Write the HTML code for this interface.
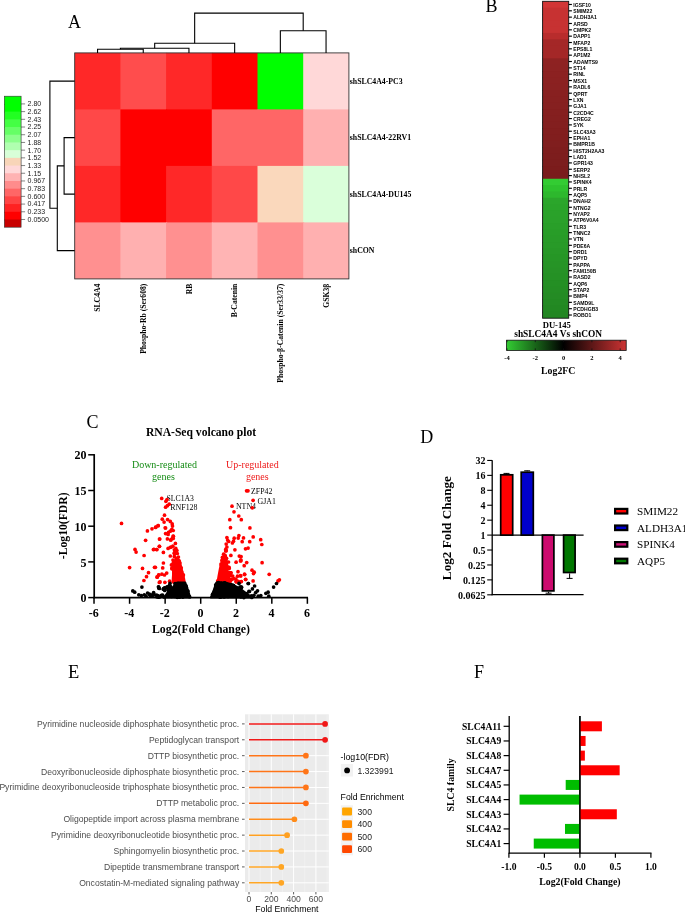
<!DOCTYPE html>
<html><head><meta charset="utf-8"><title>Figure</title>
<style>html,body{margin:0;padding:0;background:#fff;} svg{display:block;will-change:transform;}</style>
</head><body>
<svg width="685" height="913" viewBox="0 0 685 913">
<rect width="685" height="913" fill="#fff"/>
<text x="68.00" y="28.30" font-family="'Liberation Serif', serif" font-size="18" font-weight="normal" text-anchor="start" fill="#000" >A</text>
<rect x="4.30" y="96.20" width="16.80" height="8.71" fill="#00ff00" stroke="none" stroke-width="0" />
<rect x="4.30" y="103.91" width="16.80" height="8.71" fill="#00ff00" stroke="none" stroke-width="0" />
<rect x="4.30" y="111.61" width="16.80" height="8.71" fill="#22ff22" stroke="none" stroke-width="0" />
<rect x="4.30" y="119.32" width="16.80" height="8.71" fill="#44ff44" stroke="none" stroke-width="0" />
<rect x="4.30" y="127.02" width="16.80" height="8.71" fill="#66ff66" stroke="none" stroke-width="0" />
<rect x="4.30" y="134.73" width="16.80" height="8.71" fill="#8cff8c" stroke="none" stroke-width="0" />
<rect x="4.30" y="142.44" width="16.80" height="8.71" fill="#b0ffb0" stroke="none" stroke-width="0" />
<rect x="4.30" y="150.14" width="16.80" height="8.71" fill="#d8ffd8" stroke="none" stroke-width="0" />
<rect x="4.30" y="157.85" width="16.80" height="8.71" fill="#f8d5b8" stroke="none" stroke-width="0" />
<rect x="4.30" y="165.55" width="16.80" height="8.71" fill="#ffd8d8" stroke="none" stroke-width="0" />
<rect x="4.30" y="173.26" width="16.80" height="8.71" fill="#ffb3b3" stroke="none" stroke-width="0" />
<rect x="4.30" y="180.96" width="16.80" height="8.71" fill="#ff8c8c" stroke="none" stroke-width="0" />
<rect x="4.30" y="188.67" width="16.80" height="8.71" fill="#ff6666" stroke="none" stroke-width="0" />
<rect x="4.30" y="196.38" width="16.80" height="8.71" fill="#ff4444" stroke="none" stroke-width="0" />
<rect x="4.30" y="204.08" width="16.80" height="8.71" fill="#ff2222" stroke="none" stroke-width="0" />
<rect x="4.30" y="211.79" width="16.80" height="8.71" fill="#ff0000" stroke="none" stroke-width="0" />
<rect x="4.30" y="219.49" width="16.80" height="7.71" fill="#c80000" stroke="none" stroke-width="0" />
<rect x="4.30" y="96.20" width="16.80" height="131.00" fill="none" stroke="#333" stroke-width="0.6" />
<line x1="21.10" y1="103.91" x2="25.10" y2="103.91" stroke="#333" stroke-width="0.6" />
<text x="27.60" y="106.31" font-family="'Liberation Sans', sans-serif" font-size="7" font-weight="normal" text-anchor="start" fill="#222" >2.80</text>
<line x1="21.10" y1="111.61" x2="25.10" y2="111.61" stroke="#333" stroke-width="0.6" />
<text x="27.60" y="114.01" font-family="'Liberation Sans', sans-serif" font-size="7" font-weight="normal" text-anchor="start" fill="#222" >2.62</text>
<line x1="21.10" y1="119.32" x2="25.10" y2="119.32" stroke="#333" stroke-width="0.6" />
<text x="27.60" y="121.72" font-family="'Liberation Sans', sans-serif" font-size="7" font-weight="normal" text-anchor="start" fill="#222" >2.43</text>
<line x1="21.10" y1="127.02" x2="25.10" y2="127.02" stroke="#333" stroke-width="0.6" />
<text x="27.60" y="129.42" font-family="'Liberation Sans', sans-serif" font-size="7" font-weight="normal" text-anchor="start" fill="#222" >2.25</text>
<line x1="21.10" y1="134.73" x2="25.10" y2="134.73" stroke="#333" stroke-width="0.6" />
<text x="27.60" y="137.13" font-family="'Liberation Sans', sans-serif" font-size="7" font-weight="normal" text-anchor="start" fill="#222" >2.07</text>
<line x1="21.10" y1="142.44" x2="25.10" y2="142.44" stroke="#333" stroke-width="0.6" />
<text x="27.60" y="144.84" font-family="'Liberation Sans', sans-serif" font-size="7" font-weight="normal" text-anchor="start" fill="#222" >1.88</text>
<line x1="21.10" y1="150.14" x2="25.10" y2="150.14" stroke="#333" stroke-width="0.6" />
<text x="27.60" y="152.54" font-family="'Liberation Sans', sans-serif" font-size="7" font-weight="normal" text-anchor="start" fill="#222" >1.70</text>
<line x1="21.10" y1="157.85" x2="25.10" y2="157.85" stroke="#333" stroke-width="0.6" />
<text x="27.60" y="160.25" font-family="'Liberation Sans', sans-serif" font-size="7" font-weight="normal" text-anchor="start" fill="#222" >1.52</text>
<line x1="21.10" y1="165.55" x2="25.10" y2="165.55" stroke="#333" stroke-width="0.6" />
<text x="27.60" y="167.95" font-family="'Liberation Sans', sans-serif" font-size="7" font-weight="normal" text-anchor="start" fill="#222" >1.33</text>
<line x1="21.10" y1="173.26" x2="25.10" y2="173.26" stroke="#333" stroke-width="0.6" />
<text x="27.60" y="175.66" font-family="'Liberation Sans', sans-serif" font-size="7" font-weight="normal" text-anchor="start" fill="#222" >1.15</text>
<line x1="21.10" y1="180.96" x2="25.10" y2="180.96" stroke="#333" stroke-width="0.6" />
<text x="27.60" y="183.36" font-family="'Liberation Sans', sans-serif" font-size="7" font-weight="normal" text-anchor="start" fill="#222" >0.967</text>
<line x1="21.10" y1="188.67" x2="25.10" y2="188.67" stroke="#333" stroke-width="0.6" />
<text x="27.60" y="191.07" font-family="'Liberation Sans', sans-serif" font-size="7" font-weight="normal" text-anchor="start" fill="#222" >0.783</text>
<line x1="21.10" y1="196.38" x2="25.10" y2="196.38" stroke="#333" stroke-width="0.6" />
<text x="27.60" y="198.78" font-family="'Liberation Sans', sans-serif" font-size="7" font-weight="normal" text-anchor="start" fill="#222" >0.600</text>
<line x1="21.10" y1="204.08" x2="25.10" y2="204.08" stroke="#333" stroke-width="0.6" />
<text x="27.60" y="206.48" font-family="'Liberation Sans', sans-serif" font-size="7" font-weight="normal" text-anchor="start" fill="#222" >0.417</text>
<line x1="21.10" y1="211.79" x2="25.10" y2="211.79" stroke="#333" stroke-width="0.6" />
<text x="27.60" y="214.19" font-family="'Liberation Sans', sans-serif" font-size="7" font-weight="normal" text-anchor="start" fill="#222" >0.233</text>
<line x1="21.10" y1="219.49" x2="25.10" y2="219.49" stroke="#333" stroke-width="0.6" />
<text x="27.60" y="221.89" font-family="'Liberation Sans', sans-serif" font-size="7" font-weight="normal" text-anchor="start" fill="#222" >0.0500</text>
<rect x="74.70" y="52.90" width="46.70" height="57.50" fill="#ff2828" stroke="none" stroke-width="0" />
<rect x="120.40" y="52.90" width="46.70" height="57.50" fill="#ff4d4d" stroke="none" stroke-width="0" />
<rect x="166.10" y="52.90" width="46.70" height="57.50" fill="#ff2828" stroke="none" stroke-width="0" />
<rect x="211.80" y="52.90" width="46.70" height="57.50" fill="#ff0000" stroke="none" stroke-width="0" />
<rect x="257.50" y="52.90" width="46.70" height="57.50" fill="#00ff00" stroke="none" stroke-width="0" />
<rect x="303.20" y="52.90" width="45.70" height="57.50" fill="#ffd8d8" stroke="none" stroke-width="0" />
<rect x="74.70" y="109.40" width="46.70" height="57.50" fill="#ff4848" stroke="none" stroke-width="0" />
<rect x="120.40" y="109.40" width="46.70" height="57.50" fill="#ff0000" stroke="none" stroke-width="0" />
<rect x="166.10" y="109.40" width="46.70" height="57.50" fill="#ff0000" stroke="none" stroke-width="0" />
<rect x="211.80" y="109.40" width="46.70" height="57.50" fill="#ff6666" stroke="none" stroke-width="0" />
<rect x="257.50" y="109.40" width="46.70" height="57.50" fill="#ff6666" stroke="none" stroke-width="0" />
<rect x="303.20" y="109.40" width="45.70" height="57.50" fill="#ffb0b0" stroke="none" stroke-width="0" />
<rect x="74.70" y="165.90" width="46.70" height="57.50" fill="#ff2828" stroke="none" stroke-width="0" />
<rect x="120.40" y="165.90" width="46.70" height="57.50" fill="#ff0000" stroke="none" stroke-width="0" />
<rect x="166.10" y="165.90" width="46.70" height="57.50" fill="#ff2828" stroke="none" stroke-width="0" />
<rect x="211.80" y="165.90" width="46.70" height="57.50" fill="#ff4848" stroke="none" stroke-width="0" />
<rect x="257.50" y="165.90" width="46.70" height="57.50" fill="#fad8bc" stroke="none" stroke-width="0" />
<rect x="303.20" y="165.90" width="45.70" height="57.50" fill="#daffda" stroke="none" stroke-width="0" />
<rect x="74.70" y="222.40" width="46.70" height="56.50" fill="#ff9090" stroke="none" stroke-width="0" />
<rect x="120.40" y="222.40" width="46.70" height="56.50" fill="#ffb0b0" stroke="none" stroke-width="0" />
<rect x="166.10" y="222.40" width="46.70" height="56.50" fill="#ff9090" stroke="none" stroke-width="0" />
<rect x="211.80" y="222.40" width="46.70" height="56.50" fill="#ffb4b4" stroke="none" stroke-width="0" />
<rect x="257.50" y="222.40" width="46.70" height="56.50" fill="#ff9090" stroke="none" stroke-width="0" />
<rect x="303.20" y="222.40" width="45.70" height="56.50" fill="#ffb0b0" stroke="none" stroke-width="0" />
<rect x="74.70" y="52.90" width="274.20" height="226.00" fill="none" stroke="#333" stroke-width="0.9" />
<text x="349.80" y="83.85" font-family="'Liberation Serif', serif" font-size="7.8" font-weight="bold" text-anchor="start" fill="#000" >shSLC4A4-PC3</text>
<text x="349.80" y="140.35" font-family="'Liberation Serif', serif" font-size="7.8" font-weight="bold" text-anchor="start" fill="#000" >shSLC4A4-22RV1</text>
<text x="349.80" y="196.85" font-family="'Liberation Serif', serif" font-size="7.8" font-weight="bold" text-anchor="start" fill="#000" >shSLC4A4-DU145</text>
<text x="349.80" y="253.35" font-family="'Liberation Serif', serif" font-size="7.8" font-weight="bold" text-anchor="start" fill="#000" >shCON</text>
<text x="0.00" y="0.00" font-family="'Liberation Serif', serif" font-size="7.7" font-weight="bold" text-anchor="end" fill="#000" transform="translate(100.15,283.6) rotate(-90)">SLC4A4</text>
<text x="0.00" y="0.00" font-family="'Liberation Serif', serif" font-size="7.7" font-weight="bold" text-anchor="end" fill="#000" transform="translate(145.85,283.6) rotate(-90)">Phospho-Rb (Ser608)</text>
<text x="0.00" y="0.00" font-family="'Liberation Serif', serif" font-size="7.7" font-weight="bold" text-anchor="end" fill="#000" transform="translate(191.55,283.6) rotate(-90)">RB</text>
<text x="0.00" y="0.00" font-family="'Liberation Serif', serif" font-size="7.7" font-weight="bold" text-anchor="end" fill="#000" transform="translate(237.25,283.6) rotate(-90)">B-Catenin</text>
<text x="0.00" y="0.00" font-family="'Liberation Serif', serif" font-size="7.7" font-weight="bold" text-anchor="end" fill="#000" transform="translate(282.95,283.6) rotate(-90)">Phospho-&#946;-Catenin (Ser33/37)</text>
<text x="0.00" y="0.00" font-family="'Liberation Serif', serif" font-size="7.7" font-weight="bold" text-anchor="end" fill="#000" transform="translate(328.65,283.6) rotate(-90)">GSK3&#946;</text>
<path d="M97.55,52.90 V49.30 H143.25 V52.90" stroke="#000" stroke-width="1.1" fill="none" />
<path d="M120.40,49.30 V48.30 H188.95 V52.90" stroke="#000" stroke-width="1.1" fill="none" />
<path d="M154.68,48.30 V43.30 H234.65 V52.90" stroke="#000" stroke-width="1.1" fill="none" />
<path d="M280.35,52.90 V30.70 H326.05 V52.90" stroke="#000" stroke-width="1.1" fill="none" />
<path d="M194.66,43.30 V13.10 H303.20 V30.70" stroke="#000" stroke-width="1.1" fill="none" />
<path d="M74.70,137.65 H64.10 V194.15 H74.70" stroke="#000" stroke-width="1.1" fill="none" />
<path d="M64.10,165.90 H57.30 V250.65 H74.70" stroke="#000" stroke-width="1.1" fill="none" />
<path d="M74.70,81.15 H49.90 V208.27 H57.30" stroke="#000" stroke-width="1.1" fill="none" />
<text x="485.60" y="12.30" font-family="'Liberation Serif', serif" font-size="18" font-weight="normal" text-anchor="start" fill="#000" >B</text>
<rect x="542.60" y="1.30" width="26.10" height="7.34" fill="#d23636" stroke="none" stroke-width="0" />
<rect x="542.60" y="7.64" width="26.10" height="7.34" fill="#c73232" stroke="none" stroke-width="0" />
<rect x="542.60" y="13.98" width="26.10" height="7.34" fill="#c73232" stroke="none" stroke-width="0" />
<rect x="542.60" y="20.31" width="26.10" height="7.34" fill="#c73232" stroke="none" stroke-width="0" />
<rect x="542.60" y="26.65" width="26.10" height="7.34" fill="#c73232" stroke="none" stroke-width="0" />
<rect x="542.60" y="32.99" width="26.10" height="7.34" fill="#b82c2c" stroke="none" stroke-width="0" />
<rect x="542.60" y="39.33" width="26.10" height="7.34" fill="#a42727" stroke="none" stroke-width="0" />
<rect x="542.60" y="45.67" width="26.10" height="7.34" fill="#a42727" stroke="none" stroke-width="0" />
<rect x="542.60" y="52.00" width="26.10" height="7.34" fill="#a42727" stroke="none" stroke-width="0" />
<rect x="542.60" y="58.34" width="26.10" height="7.34" fill="#8e2222" stroke="none" stroke-width="0" />
<rect x="542.60" y="64.68" width="26.10" height="7.34" fill="#8d2222" stroke="none" stroke-width="0" />
<rect x="542.60" y="71.02" width="26.10" height="7.34" fill="#8c2121" stroke="none" stroke-width="0" />
<rect x="542.60" y="77.36" width="26.10" height="7.34" fill="#8b2121" stroke="none" stroke-width="0" />
<rect x="542.60" y="83.69" width="26.10" height="7.34" fill="#8a2121" stroke="none" stroke-width="0" />
<rect x="542.60" y="90.03" width="26.10" height="7.34" fill="#882020" stroke="none" stroke-width="0" />
<rect x="542.60" y="96.37" width="26.10" height="7.34" fill="#872020" stroke="none" stroke-width="0" />
<rect x="542.60" y="102.71" width="26.10" height="7.34" fill="#862020" stroke="none" stroke-width="0" />
<rect x="542.60" y="109.05" width="26.10" height="7.34" fill="#851f1f" stroke="none" stroke-width="0" />
<rect x="542.60" y="115.38" width="26.10" height="7.34" fill="#841f1f" stroke="none" stroke-width="0" />
<rect x="542.60" y="121.72" width="26.10" height="7.34" fill="#831f1f" stroke="none" stroke-width="0" />
<rect x="542.60" y="128.06" width="26.10" height="7.34" fill="#821e1e" stroke="none" stroke-width="0" />
<rect x="542.60" y="134.40" width="26.10" height="7.34" fill="#811e1e" stroke="none" stroke-width="0" />
<rect x="542.60" y="140.74" width="26.10" height="7.34" fill="#801e1e" stroke="none" stroke-width="0" />
<rect x="542.60" y="147.07" width="26.10" height="7.34" fill="#7e1d1d" stroke="none" stroke-width="0" />
<rect x="542.60" y="153.41" width="26.10" height="7.34" fill="#7d1d1d" stroke="none" stroke-width="0" />
<rect x="542.60" y="159.75" width="26.10" height="7.34" fill="#7c1d1d" stroke="none" stroke-width="0" />
<rect x="542.60" y="166.09" width="26.10" height="7.34" fill="#7b1c1c" stroke="none" stroke-width="0" />
<rect x="542.60" y="172.43" width="26.10" height="7.34" fill="#7a1c1c" stroke="none" stroke-width="0" />
<rect x="542.60" y="178.76" width="26.10" height="7.34" fill="#33cc33" stroke="none" stroke-width="0" />
<rect x="542.60" y="185.10" width="26.10" height="7.34" fill="#2ec22e" stroke="none" stroke-width="0" />
<rect x="542.60" y="191.44" width="26.10" height="7.34" fill="#2db82d" stroke="none" stroke-width="0" />
<rect x="542.60" y="197.78" width="26.10" height="7.34" fill="#2ba62b" stroke="none" stroke-width="0" />
<rect x="542.60" y="204.12" width="26.10" height="7.34" fill="#2aa42a" stroke="none" stroke-width="0" />
<rect x="542.60" y="210.45" width="26.10" height="7.34" fill="#2aa22a" stroke="none" stroke-width="0" />
<rect x="542.60" y="216.79" width="26.10" height="7.34" fill="#2aa12a" stroke="none" stroke-width="0" />
<rect x="542.60" y="223.13" width="26.10" height="7.34" fill="#299f29" stroke="none" stroke-width="0" />
<rect x="542.60" y="229.47" width="26.10" height="7.34" fill="#289d28" stroke="none" stroke-width="0" />
<rect x="542.60" y="235.81" width="26.10" height="7.34" fill="#289b28" stroke="none" stroke-width="0" />
<rect x="542.60" y="242.14" width="26.10" height="7.34" fill="#289a28" stroke="none" stroke-width="0" />
<rect x="542.60" y="248.48" width="26.10" height="7.34" fill="#279827" stroke="none" stroke-width="0" />
<rect x="542.60" y="254.82" width="26.10" height="7.34" fill="#269626" stroke="none" stroke-width="0" />
<rect x="542.60" y="261.16" width="26.10" height="7.34" fill="#269426" stroke="none" stroke-width="0" />
<rect x="542.60" y="267.50" width="26.10" height="7.34" fill="#269226" stroke="none" stroke-width="0" />
<rect x="542.60" y="273.83" width="26.10" height="7.34" fill="#259125" stroke="none" stroke-width="0" />
<rect x="542.60" y="280.17" width="26.10" height="7.34" fill="#248f24" stroke="none" stroke-width="0" />
<rect x="542.60" y="286.51" width="26.10" height="7.34" fill="#248d24" stroke="none" stroke-width="0" />
<rect x="542.60" y="292.85" width="26.10" height="7.34" fill="#248b24" stroke="none" stroke-width="0" />
<rect x="542.60" y="299.19" width="26.10" height="7.34" fill="#238a23" stroke="none" stroke-width="0" />
<rect x="542.60" y="305.52" width="26.10" height="7.34" fill="#228822" stroke="none" stroke-width="0" />
<rect x="542.60" y="311.86" width="26.10" height="6.34" fill="#228622" stroke="none" stroke-width="0" />
<rect x="542.60" y="1.30" width="26.10" height="316.90" fill="none" stroke="#111" stroke-width="0.9" />
<line x1="568.70" y1="4.47" x2="571.90" y2="4.47" stroke="#000" stroke-width="1.15" />
<text x="573.30" y="6.77" font-family="'Liberation Sans', sans-serif" font-size="5.1" font-weight="bold" text-anchor="start" fill="#000" >IGSF10</text>
<line x1="568.70" y1="10.81" x2="571.90" y2="10.81" stroke="#000" stroke-width="1.15" />
<text x="573.30" y="13.11" font-family="'Liberation Sans', sans-serif" font-size="5.1" font-weight="bold" text-anchor="start" fill="#000" >SMIM22</text>
<line x1="568.70" y1="17.14" x2="571.90" y2="17.14" stroke="#000" stroke-width="1.15" />
<text x="573.30" y="19.45" font-family="'Liberation Sans', sans-serif" font-size="5.1" font-weight="bold" text-anchor="start" fill="#000" >ALDH3A1</text>
<line x1="568.70" y1="23.48" x2="571.90" y2="23.48" stroke="#000" stroke-width="1.15" />
<text x="573.30" y="25.78" font-family="'Liberation Sans', sans-serif" font-size="5.1" font-weight="bold" text-anchor="start" fill="#000" >ARSD</text>
<line x1="568.70" y1="29.82" x2="571.90" y2="29.82" stroke="#000" stroke-width="1.15" />
<text x="573.30" y="32.12" font-family="'Liberation Sans', sans-serif" font-size="5.1" font-weight="bold" text-anchor="start" fill="#000" >CMPK2</text>
<line x1="568.70" y1="36.16" x2="571.90" y2="36.16" stroke="#000" stroke-width="1.15" />
<text x="573.30" y="38.46" font-family="'Liberation Sans', sans-serif" font-size="5.1" font-weight="bold" text-anchor="start" fill="#000" >DAPP1</text>
<line x1="568.70" y1="42.50" x2="571.90" y2="42.50" stroke="#000" stroke-width="1.15" />
<text x="573.30" y="44.80" font-family="'Liberation Sans', sans-serif" font-size="5.1" font-weight="bold" text-anchor="start" fill="#000" >MFAP2</text>
<line x1="568.70" y1="48.83" x2="571.90" y2="48.83" stroke="#000" stroke-width="1.15" />
<text x="573.30" y="51.13" font-family="'Liberation Sans', sans-serif" font-size="5.1" font-weight="bold" text-anchor="start" fill="#000" >EPS8L1</text>
<line x1="568.70" y1="55.17" x2="571.90" y2="55.17" stroke="#000" stroke-width="1.15" />
<text x="573.30" y="57.47" font-family="'Liberation Sans', sans-serif" font-size="5.1" font-weight="bold" text-anchor="start" fill="#000" >AP1M2</text>
<line x1="568.70" y1="61.51" x2="571.90" y2="61.51" stroke="#000" stroke-width="1.15" />
<text x="573.30" y="63.81" font-family="'Liberation Sans', sans-serif" font-size="5.1" font-weight="bold" text-anchor="start" fill="#000" >ADAMTS9</text>
<line x1="568.70" y1="67.85" x2="571.90" y2="67.85" stroke="#000" stroke-width="1.15" />
<text x="573.30" y="70.15" font-family="'Liberation Sans', sans-serif" font-size="5.1" font-weight="bold" text-anchor="start" fill="#000" >ST14</text>
<line x1="568.70" y1="74.19" x2="571.90" y2="74.19" stroke="#000" stroke-width="1.15" />
<text x="573.30" y="76.49" font-family="'Liberation Sans', sans-serif" font-size="5.1" font-weight="bold" text-anchor="start" fill="#000" >RINL</text>
<line x1="568.70" y1="80.52" x2="571.90" y2="80.52" stroke="#000" stroke-width="1.15" />
<text x="573.30" y="82.82" font-family="'Liberation Sans', sans-serif" font-size="5.1" font-weight="bold" text-anchor="start" fill="#000" >MSX1</text>
<line x1="568.70" y1="86.86" x2="571.90" y2="86.86" stroke="#000" stroke-width="1.15" />
<text x="573.30" y="89.16" font-family="'Liberation Sans', sans-serif" font-size="5.1" font-weight="bold" text-anchor="start" fill="#000" >RADL6</text>
<line x1="568.70" y1="93.20" x2="571.90" y2="93.20" stroke="#000" stroke-width="1.15" />
<text x="573.30" y="95.50" font-family="'Liberation Sans', sans-serif" font-size="5.1" font-weight="bold" text-anchor="start" fill="#000" >QPRT</text>
<line x1="568.70" y1="99.54" x2="571.90" y2="99.54" stroke="#000" stroke-width="1.15" />
<text x="573.30" y="101.84" font-family="'Liberation Sans', sans-serif" font-size="5.1" font-weight="bold" text-anchor="start" fill="#000" >LXN</text>
<line x1="568.70" y1="105.88" x2="571.90" y2="105.88" stroke="#000" stroke-width="1.15" />
<text x="573.30" y="108.18" font-family="'Liberation Sans', sans-serif" font-size="5.1" font-weight="bold" text-anchor="start" fill="#000" >GJA1</text>
<line x1="568.70" y1="112.21" x2="571.90" y2="112.21" stroke="#000" stroke-width="1.15" />
<text x="573.30" y="114.51" font-family="'Liberation Sans', sans-serif" font-size="5.1" font-weight="bold" text-anchor="start" fill="#000" >C2CD4C</text>
<line x1="568.70" y1="118.55" x2="571.90" y2="118.55" stroke="#000" stroke-width="1.15" />
<text x="573.30" y="120.85" font-family="'Liberation Sans', sans-serif" font-size="5.1" font-weight="bold" text-anchor="start" fill="#000" >CREG2</text>
<line x1="568.70" y1="124.89" x2="571.90" y2="124.89" stroke="#000" stroke-width="1.15" />
<text x="573.30" y="127.19" font-family="'Liberation Sans', sans-serif" font-size="5.1" font-weight="bold" text-anchor="start" fill="#000" >SYK</text>
<line x1="568.70" y1="131.23" x2="571.90" y2="131.23" stroke="#000" stroke-width="1.15" />
<text x="573.30" y="133.53" font-family="'Liberation Sans', sans-serif" font-size="5.1" font-weight="bold" text-anchor="start" fill="#000" >SLC43A3</text>
<line x1="568.70" y1="137.57" x2="571.90" y2="137.57" stroke="#000" stroke-width="1.15" />
<text x="573.30" y="139.87" font-family="'Liberation Sans', sans-serif" font-size="5.1" font-weight="bold" text-anchor="start" fill="#000" >EPHA1</text>
<line x1="568.70" y1="143.91" x2="571.90" y2="143.91" stroke="#000" stroke-width="1.15" />
<text x="573.30" y="146.21" font-family="'Liberation Sans', sans-serif" font-size="5.1" font-weight="bold" text-anchor="start" fill="#000" >BMPR1B</text>
<line x1="568.70" y1="150.24" x2="571.90" y2="150.24" stroke="#000" stroke-width="1.15" />
<text x="573.30" y="152.54" font-family="'Liberation Sans', sans-serif" font-size="5.1" font-weight="bold" text-anchor="start" fill="#000" >HIST2H2AA3</text>
<line x1="568.70" y1="156.58" x2="571.90" y2="156.58" stroke="#000" stroke-width="1.15" />
<text x="573.30" y="158.88" font-family="'Liberation Sans', sans-serif" font-size="5.1" font-weight="bold" text-anchor="start" fill="#000" >LAD1</text>
<line x1="568.70" y1="162.92" x2="571.90" y2="162.92" stroke="#000" stroke-width="1.15" />
<text x="573.30" y="165.22" font-family="'Liberation Sans', sans-serif" font-size="5.1" font-weight="bold" text-anchor="start" fill="#000" >GPR143</text>
<line x1="568.70" y1="169.26" x2="571.90" y2="169.26" stroke="#000" stroke-width="1.15" />
<text x="573.30" y="171.56" font-family="'Liberation Sans', sans-serif" font-size="5.1" font-weight="bold" text-anchor="start" fill="#000" >SERP2</text>
<line x1="568.70" y1="175.59" x2="571.90" y2="175.59" stroke="#000" stroke-width="1.15" />
<text x="573.30" y="177.90" font-family="'Liberation Sans', sans-serif" font-size="5.1" font-weight="bold" text-anchor="start" fill="#000" >NHSL2</text>
<line x1="568.70" y1="181.93" x2="571.90" y2="181.93" stroke="#000" stroke-width="1.15" />
<text x="573.30" y="184.23" font-family="'Liberation Sans', sans-serif" font-size="5.1" font-weight="bold" text-anchor="start" fill="#000" >SPINK4</text>
<line x1="568.70" y1="188.27" x2="571.90" y2="188.27" stroke="#000" stroke-width="1.15" />
<text x="573.30" y="190.57" font-family="'Liberation Sans', sans-serif" font-size="5.1" font-weight="bold" text-anchor="start" fill="#000" >PRLR</text>
<line x1="568.70" y1="194.61" x2="571.90" y2="194.61" stroke="#000" stroke-width="1.15" />
<text x="573.30" y="196.91" font-family="'Liberation Sans', sans-serif" font-size="5.1" font-weight="bold" text-anchor="start" fill="#000" >AQP5</text>
<line x1="568.70" y1="200.95" x2="571.90" y2="200.95" stroke="#000" stroke-width="1.15" />
<text x="573.30" y="203.25" font-family="'Liberation Sans', sans-serif" font-size="5.1" font-weight="bold" text-anchor="start" fill="#000" >DNAH2</text>
<line x1="568.70" y1="207.28" x2="571.90" y2="207.28" stroke="#000" stroke-width="1.15" />
<text x="573.30" y="209.59" font-family="'Liberation Sans', sans-serif" font-size="5.1" font-weight="bold" text-anchor="start" fill="#000" >NTNG2</text>
<line x1="568.70" y1="213.62" x2="571.90" y2="213.62" stroke="#000" stroke-width="1.15" />
<text x="573.30" y="215.92" font-family="'Liberation Sans', sans-serif" font-size="5.1" font-weight="bold" text-anchor="start" fill="#000" >NYAP2</text>
<line x1="568.70" y1="219.96" x2="571.90" y2="219.96" stroke="#000" stroke-width="1.15" />
<text x="573.30" y="222.26" font-family="'Liberation Sans', sans-serif" font-size="5.1" font-weight="bold" text-anchor="start" fill="#000" >ATP6V0A4</text>
<line x1="568.70" y1="226.30" x2="571.90" y2="226.30" stroke="#000" stroke-width="1.15" />
<text x="573.30" y="228.60" font-family="'Liberation Sans', sans-serif" font-size="5.1" font-weight="bold" text-anchor="start" fill="#000" >TLR3</text>
<line x1="568.70" y1="232.64" x2="571.90" y2="232.64" stroke="#000" stroke-width="1.15" />
<text x="573.30" y="234.94" font-family="'Liberation Sans', sans-serif" font-size="5.1" font-weight="bold" text-anchor="start" fill="#000" >TNNC2</text>
<line x1="568.70" y1="238.97" x2="571.90" y2="238.97" stroke="#000" stroke-width="1.15" />
<text x="573.30" y="241.28" font-family="'Liberation Sans', sans-serif" font-size="5.1" font-weight="bold" text-anchor="start" fill="#000" >VTN</text>
<line x1="568.70" y1="245.31" x2="571.90" y2="245.31" stroke="#000" stroke-width="1.15" />
<text x="573.30" y="247.61" font-family="'Liberation Sans', sans-serif" font-size="5.1" font-weight="bold" text-anchor="start" fill="#000" >PDE6A</text>
<line x1="568.70" y1="251.65" x2="571.90" y2="251.65" stroke="#000" stroke-width="1.15" />
<text x="573.30" y="253.95" font-family="'Liberation Sans', sans-serif" font-size="5.1" font-weight="bold" text-anchor="start" fill="#000" >DRD1</text>
<line x1="568.70" y1="257.99" x2="571.90" y2="257.99" stroke="#000" stroke-width="1.15" />
<text x="573.30" y="260.29" font-family="'Liberation Sans', sans-serif" font-size="5.1" font-weight="bold" text-anchor="start" fill="#000" >DPYD</text>
<line x1="568.70" y1="264.33" x2="571.90" y2="264.33" stroke="#000" stroke-width="1.15" />
<text x="573.30" y="266.63" font-family="'Liberation Sans', sans-serif" font-size="5.1" font-weight="bold" text-anchor="start" fill="#000" >PAPPA</text>
<line x1="568.70" y1="270.66" x2="571.90" y2="270.66" stroke="#000" stroke-width="1.15" />
<text x="573.30" y="272.96" font-family="'Liberation Sans', sans-serif" font-size="5.1" font-weight="bold" text-anchor="start" fill="#000" >FAM150B</text>
<line x1="568.70" y1="277.00" x2="571.90" y2="277.00" stroke="#000" stroke-width="1.15" />
<text x="573.30" y="279.30" font-family="'Liberation Sans', sans-serif" font-size="5.1" font-weight="bold" text-anchor="start" fill="#000" >RASD2</text>
<line x1="568.70" y1="283.34" x2="571.90" y2="283.34" stroke="#000" stroke-width="1.15" />
<text x="573.30" y="285.64" font-family="'Liberation Sans', sans-serif" font-size="5.1" font-weight="bold" text-anchor="start" fill="#000" >AQP6</text>
<line x1="568.70" y1="289.68" x2="571.90" y2="289.68" stroke="#000" stroke-width="1.15" />
<text x="573.30" y="291.98" font-family="'Liberation Sans', sans-serif" font-size="5.1" font-weight="bold" text-anchor="start" fill="#000" >STAP2</text>
<line x1="568.70" y1="296.02" x2="571.90" y2="296.02" stroke="#000" stroke-width="1.15" />
<text x="573.30" y="298.32" font-family="'Liberation Sans', sans-serif" font-size="5.1" font-weight="bold" text-anchor="start" fill="#000" >BMP4</text>
<line x1="568.70" y1="302.35" x2="571.90" y2="302.35" stroke="#000" stroke-width="1.15" />
<text x="573.30" y="304.65" font-family="'Liberation Sans', sans-serif" font-size="5.1" font-weight="bold" text-anchor="start" fill="#000" >SAMD9L</text>
<line x1="568.70" y1="308.69" x2="571.90" y2="308.69" stroke="#000" stroke-width="1.15" />
<text x="573.30" y="310.99" font-family="'Liberation Sans', sans-serif" font-size="5.1" font-weight="bold" text-anchor="start" fill="#000" >PCDHGB3</text>
<line x1="568.70" y1="315.03" x2="571.90" y2="315.03" stroke="#000" stroke-width="1.15" />
<text x="573.30" y="317.33" font-family="'Liberation Sans', sans-serif" font-size="5.1" font-weight="bold" text-anchor="start" fill="#000" >ROBO1</text>
<text x="556.80" y="327.80" font-family="'Liberation Serif', serif" font-size="8.6" font-weight="bold" text-anchor="middle" fill="#000" >DU-145</text>
<text x="558.20" y="336.70" font-family="'Liberation Serif', serif" font-size="9.4" font-weight="bold" text-anchor="middle" fill="#000" >shSLC4A4 Vs shCON</text>
<defs><linearGradient id="lfc" x1="0" x2="1" y1="0" y2="0"><stop offset="0" stop-color="#33cc33"/><stop offset="0.475" stop-color="#000"/><stop offset="1" stop-color="#cc3333"/></linearGradient></defs>
<rect x="506.60" y="340.20" width="119.60" height="10.20" fill="url(#lfc)" stroke="#111" stroke-width="0.8" />
<line x1="507.00" y1="348.40" x2="507.00" y2="350.40" stroke="#111" stroke-width="0.8" />
<line x1="507.00" y1="340.20" x2="507.00" y2="342.20" stroke="#111" stroke-width="0.8" />
<text x="507.00" y="360.00" font-family="'Liberation Serif', serif" font-size="6.5" font-weight="bold" text-anchor="middle" fill="#000" >-4</text>
<line x1="535.30" y1="348.40" x2="535.30" y2="350.40" stroke="#111" stroke-width="0.8" />
<line x1="535.30" y1="340.20" x2="535.30" y2="342.20" stroke="#111" stroke-width="0.8" />
<text x="535.30" y="360.00" font-family="'Liberation Serif', serif" font-size="6.5" font-weight="bold" text-anchor="middle" fill="#000" >-2</text>
<line x1="563.60" y1="348.40" x2="563.60" y2="350.40" stroke="#111" stroke-width="0.8" />
<line x1="563.60" y1="340.20" x2="563.60" y2="342.20" stroke="#111" stroke-width="0.8" />
<text x="563.60" y="360.00" font-family="'Liberation Serif', serif" font-size="6.5" font-weight="bold" text-anchor="middle" fill="#000" >0</text>
<line x1="591.90" y1="348.40" x2="591.90" y2="350.40" stroke="#111" stroke-width="0.8" />
<line x1="591.90" y1="340.20" x2="591.90" y2="342.20" stroke="#111" stroke-width="0.8" />
<text x="591.90" y="360.00" font-family="'Liberation Serif', serif" font-size="6.5" font-weight="bold" text-anchor="middle" fill="#000" >2</text>
<line x1="620.20" y1="348.40" x2="620.20" y2="350.40" stroke="#111" stroke-width="0.8" />
<line x1="620.20" y1="340.20" x2="620.20" y2="342.20" stroke="#111" stroke-width="0.8" />
<text x="620.20" y="360.00" font-family="'Liberation Serif', serif" font-size="6.5" font-weight="bold" text-anchor="middle" fill="#000" >4</text>
<text x="558.20" y="374.40" font-family="'Liberation Serif', serif" font-size="9.8" font-weight="bold" text-anchor="middle" fill="#000" >Log2FC</text>
<text x="86.60" y="427.60" font-family="'Liberation Serif', serif" font-size="18" font-weight="normal" text-anchor="start" fill="#000" >C</text>
<text x="201.00" y="435.90" font-family="'Liberation Serif', serif" font-size="11.6" font-weight="bold" text-anchor="middle" fill="#000" >RNA-Seq volcano plot</text>
<line x1="94.20" y1="454.10" x2="94.20" y2="598.40" stroke="#000" stroke-width="1.7" />
<line x1="93.40" y1="597.60" x2="308.00" y2="597.60" stroke="#000" stroke-width="1.7" />
<line x1="88.20" y1="597.60" x2="94.20" y2="597.60" stroke="#000" stroke-width="1.5" />
<text x="86.60" y="602.20" font-family="'Liberation Serif', serif" font-size="12" font-weight="bold" text-anchor="end" fill="#000" >0</text>
<line x1="88.20" y1="561.90" x2="94.20" y2="561.90" stroke="#000" stroke-width="1.5" />
<text x="86.60" y="566.50" font-family="'Liberation Serif', serif" font-size="12" font-weight="bold" text-anchor="end" fill="#000" >5</text>
<line x1="88.20" y1="526.20" x2="94.20" y2="526.20" stroke="#000" stroke-width="1.5" />
<text x="86.60" y="530.80" font-family="'Liberation Serif', serif" font-size="12" font-weight="bold" text-anchor="end" fill="#000" >10</text>
<line x1="88.20" y1="490.50" x2="94.20" y2="490.50" stroke="#000" stroke-width="1.5" />
<text x="86.60" y="495.10" font-family="'Liberation Serif', serif" font-size="12" font-weight="bold" text-anchor="end" fill="#000" >15</text>
<line x1="88.20" y1="454.80" x2="94.20" y2="454.80" stroke="#000" stroke-width="1.5" />
<text x="86.60" y="459.40" font-family="'Liberation Serif', serif" font-size="12" font-weight="bold" text-anchor="end" fill="#000" >20</text>
<line x1="94.02" y1="597.60" x2="94.02" y2="603.80" stroke="#000" stroke-width="1.5" />
<text x="93.72" y="616.60" font-family="'Liberation Serif', serif" font-size="12" font-weight="bold" text-anchor="middle" fill="#000" >-6</text>
<line x1="129.58" y1="597.60" x2="129.58" y2="603.80" stroke="#000" stroke-width="1.5" />
<text x="129.28" y="616.60" font-family="'Liberation Serif', serif" font-size="12" font-weight="bold" text-anchor="middle" fill="#000" >-4</text>
<line x1="165.14" y1="597.60" x2="165.14" y2="603.80" stroke="#000" stroke-width="1.5" />
<text x="164.84" y="616.60" font-family="'Liberation Serif', serif" font-size="12" font-weight="bold" text-anchor="middle" fill="#000" >-2</text>
<line x1="200.70" y1="597.60" x2="200.70" y2="603.80" stroke="#000" stroke-width="1.5" />
<text x="200.40" y="616.60" font-family="'Liberation Serif', serif" font-size="12" font-weight="bold" text-anchor="middle" fill="#000" >0</text>
<line x1="236.26" y1="597.60" x2="236.26" y2="603.80" stroke="#000" stroke-width="1.5" />
<text x="235.96" y="616.60" font-family="'Liberation Serif', serif" font-size="12" font-weight="bold" text-anchor="middle" fill="#000" >2</text>
<line x1="271.82" y1="597.60" x2="271.82" y2="603.80" stroke="#000" stroke-width="1.5" />
<text x="271.52" y="616.60" font-family="'Liberation Serif', serif" font-size="12" font-weight="bold" text-anchor="middle" fill="#000" >4</text>
<line x1="307.38" y1="597.60" x2="307.38" y2="603.80" stroke="#000" stroke-width="1.5" />
<text x="307.08" y="616.60" font-family="'Liberation Serif', serif" font-size="12" font-weight="bold" text-anchor="middle" fill="#000" >6</text>
<text x="201.00" y="632.60" font-family="'Liberation Serif', serif" font-size="11.8" font-weight="bold" text-anchor="middle" fill="#000" >Log2(Fold Change)</text>
<text x="0.00" y="0.00" font-family="'Liberation Serif', serif" font-size="11.7" font-weight="bold" text-anchor="middle" fill="#000" transform="translate(67.2,525.8) rotate(-90)">-Log10(FDR)</text>
<text x="164.40" y="467.80" font-family="'Liberation Serif', serif" font-size="10" font-weight="normal" text-anchor="middle" fill="#158c15" >Down-regulated</text>
<text x="163.40" y="480.30" font-family="'Liberation Serif', serif" font-size="10" font-weight="normal" text-anchor="middle" fill="#158c15" >genes</text>
<text x="252.40" y="467.80" font-family="'Liberation Serif', serif" font-size="10" font-weight="normal" text-anchor="middle" fill="#ee1c1c" >Up-regulated</text>
<text x="257.30" y="480.30" font-family="'Liberation Serif', serif" font-size="10" font-weight="normal" text-anchor="middle" fill="#ee1c1c" >genes</text>
<text x="166.60" y="500.90" font-family="'Liberation Serif', serif" font-size="7.7" font-weight="normal" text-anchor="start" fill="#000" >SLC1A3</text>
<text x="170.30" y="509.80" font-family="'Liberation Serif', serif" font-size="7.9" font-weight="normal" text-anchor="start" fill="#000" >RNF128</text>
<text x="251.10" y="494.30" font-family="'Liberation Serif', serif" font-size="7.8" font-weight="normal" text-anchor="start" fill="#000" >ZFP42</text>
<text x="257.50" y="503.60" font-family="'Liberation Serif', serif" font-size="7.9" font-weight="normal" text-anchor="start" fill="#000" >GJA1</text>
<text x="235.90" y="509.30" font-family="'Liberation Serif', serif" font-size="7.9" font-weight="normal" text-anchor="start" fill="#000" >NTN4</text>
<path d="M177.5,558.0 L180.0,562.0 L182.0,570.0 L184.0,578.0 L184.8,582.5 L172.5,582.5 L173.0,575.0 L173.0,567.0 L174.0,561.0 Z" fill="#ff0000" stroke="#ff0000" stroke-width="2.0" stroke-linejoin="round"/>
<path d="M224.0,555.0 L226.0,556.0 L227.0,562.0 L227.5,570.0 L229.0,576.0 L230.0,582.5 L217.5,582.5 L218.5,576.0 L220.0,568.0 L222.0,561.0 Z" fill="#ff0000" stroke="#ff0000" stroke-width="2.0" stroke-linejoin="round"/>
<circle cx="174.2" cy="553.2" r="1.85" fill="#ff0000"/>
<circle cx="177.6" cy="560.6" r="1.85" fill="#ff0000"/>
<circle cx="175.8" cy="576.5" r="1.85" fill="#ff0000"/>
<circle cx="179.0" cy="580.7" r="1.85" fill="#ff0000"/>
<circle cx="178.2" cy="561.7" r="1.85" fill="#ff0000"/>
<circle cx="173.9" cy="576.2" r="1.85" fill="#ff0000"/>
<circle cx="171.9" cy="568.1" r="1.85" fill="#ff0000"/>
<circle cx="179.2" cy="560.8" r="1.85" fill="#ff0000"/>
<circle cx="179.9" cy="562.8" r="1.85" fill="#ff0000"/>
<circle cx="174.0" cy="568.2" r="1.85" fill="#ff0000"/>
<circle cx="176.3" cy="558.3" r="1.85" fill="#ff0000"/>
<circle cx="181.7" cy="572.1" r="1.85" fill="#ff0000"/>
<circle cx="172.9" cy="567.8" r="1.85" fill="#ff0000"/>
<circle cx="177.4" cy="578.2" r="1.85" fill="#ff0000"/>
<circle cx="175.7" cy="574.1" r="1.85" fill="#ff0000"/>
<circle cx="171.4" cy="564.9" r="1.85" fill="#ff0000"/>
<circle cx="181.2" cy="567.8" r="1.85" fill="#ff0000"/>
<circle cx="180.1" cy="568.5" r="1.85" fill="#ff0000"/>
<circle cx="178.3" cy="563.7" r="1.85" fill="#ff0000"/>
<circle cx="182.4" cy="580.6" r="1.85" fill="#ff0000"/>
<circle cx="176.6" cy="570.9" r="1.85" fill="#ff0000"/>
<circle cx="179.4" cy="582.3" r="1.85" fill="#ff0000"/>
<circle cx="175.2" cy="571.1" r="1.85" fill="#ff0000"/>
<circle cx="175.3" cy="578.1" r="1.85" fill="#ff0000"/>
<circle cx="177.8" cy="578.5" r="1.85" fill="#ff0000"/>
<circle cx="182.1" cy="577.8" r="1.85" fill="#ff0000"/>
<circle cx="173.5" cy="562.3" r="1.85" fill="#ff0000"/>
<circle cx="174.7" cy="578.5" r="1.85" fill="#ff0000"/>
<circle cx="172.7" cy="564.7" r="1.85" fill="#ff0000"/>
<circle cx="178.4" cy="557.1" r="1.85" fill="#ff0000"/>
<circle cx="174.9" cy="567.5" r="1.85" fill="#ff0000"/>
<circle cx="177.2" cy="569.3" r="1.85" fill="#ff0000"/>
<circle cx="183.4" cy="574.9" r="1.85" fill="#ff0000"/>
<circle cx="183.0" cy="575.5" r="1.85" fill="#ff0000"/>
<circle cx="175.3" cy="561.8" r="1.85" fill="#ff0000"/>
<circle cx="174.4" cy="549.8" r="1.85" fill="#ff0000"/>
<circle cx="173.0" cy="560.0" r="1.85" fill="#ff0000"/>
<circle cx="174.8" cy="552.2" r="1.85" fill="#ff0000"/>
<circle cx="182.6" cy="582.3" r="1.85" fill="#ff0000"/>
<circle cx="176.5" cy="564.7" r="1.85" fill="#ff0000"/>
<circle cx="225.4" cy="558.6" r="1.85" fill="#ff0000"/>
<circle cx="217.7" cy="580.9" r="1.85" fill="#ff0000"/>
<circle cx="229.8" cy="581.8" r="1.85" fill="#ff0000"/>
<circle cx="223.4" cy="561.9" r="1.85" fill="#ff0000"/>
<circle cx="221.2" cy="575.1" r="1.85" fill="#ff0000"/>
<circle cx="229.9" cy="575.3" r="1.85" fill="#ff0000"/>
<circle cx="225.0" cy="557.2" r="1.85" fill="#ff0000"/>
<circle cx="236.5" cy="582.0" r="1.85" fill="#ff0000"/>
<circle cx="237.5" cy="576.2" r="1.85" fill="#ff0000"/>
<circle cx="222.6" cy="566.8" r="1.85" fill="#ff0000"/>
<circle cx="225.7" cy="550.9" r="1.85" fill="#ff0000"/>
<circle cx="223.4" cy="572.5" r="1.85" fill="#ff0000"/>
<circle cx="239.5" cy="582.1" r="1.85" fill="#ff0000"/>
<circle cx="222.4" cy="557.4" r="1.85" fill="#ff0000"/>
<circle cx="232.1" cy="579.3" r="1.85" fill="#ff0000"/>
<circle cx="232.7" cy="576.0" r="1.85" fill="#ff0000"/>
<circle cx="221.4" cy="575.6" r="1.85" fill="#ff0000"/>
<circle cx="225.1" cy="576.0" r="1.85" fill="#ff0000"/>
<circle cx="226.8" cy="580.8" r="1.85" fill="#ff0000"/>
<circle cx="220.7" cy="576.9" r="1.85" fill="#ff0000"/>
<circle cx="225.5" cy="567.8" r="1.85" fill="#ff0000"/>
<circle cx="229.7" cy="580.3" r="1.85" fill="#ff0000"/>
<circle cx="227.5" cy="578.3" r="1.85" fill="#ff0000"/>
<circle cx="223.2" cy="559.5" r="1.85" fill="#ff0000"/>
<circle cx="222.9" cy="569.1" r="1.85" fill="#ff0000"/>
<circle cx="223.4" cy="563.6" r="1.85" fill="#ff0000"/>
<circle cx="220.3" cy="579.6" r="1.85" fill="#ff0000"/>
<circle cx="225.6" cy="564.9" r="1.85" fill="#ff0000"/>
<circle cx="231.1" cy="579.4" r="1.85" fill="#ff0000"/>
<circle cx="227.2" cy="579.8" r="1.85" fill="#ff0000"/>
<circle cx="229.1" cy="567.3" r="1.85" fill="#ff0000"/>
<circle cx="221.3" cy="565.4" r="1.85" fill="#ff0000"/>
<circle cx="225.0" cy="566.8" r="1.85" fill="#ff0000"/>
<circle cx="230.4" cy="575.5" r="1.85" fill="#ff0000"/>
<circle cx="223.1" cy="559.0" r="1.85" fill="#ff0000"/>
<circle cx="230.6" cy="574.7" r="1.85" fill="#ff0000"/>
<circle cx="229.4" cy="572.5" r="1.85" fill="#ff0000"/>
<circle cx="228.0" cy="567.3" r="1.85" fill="#ff0000"/>
<circle cx="228.6" cy="580.6" r="1.85" fill="#ff0000"/>
<circle cx="233.8" cy="578.5" r="1.85" fill="#ff0000"/>
<circle cx="230.5" cy="580.7" r="1.85" fill="#ff0000"/>
<circle cx="235.9" cy="579.2" r="1.85" fill="#ff0000"/>
<circle cx="220.9" cy="573.3" r="1.85" fill="#ff0000"/>
<circle cx="238.2" cy="581.4" r="1.85" fill="#ff0000"/>
<circle cx="222.4" cy="581.0" r="1.85" fill="#ff0000"/>
<circle cx="226.7" cy="565.8" r="1.85" fill="#ff0000"/>
<circle cx="221.0" cy="564.0" r="1.85" fill="#ff0000"/>
<circle cx="221.9" cy="560.4" r="1.85" fill="#ff0000"/>
<circle cx="218.7" cy="582.0" r="1.85" fill="#ff0000"/>
<circle cx="236.0" cy="581.6" r="1.85" fill="#ff0000"/>
<circle cx="223.6" cy="554.2" r="1.85" fill="#ff0000"/>
<circle cx="227.2" cy="579.6" r="1.85" fill="#ff0000"/>
<circle cx="220.8" cy="579.9" r="1.85" fill="#ff0000"/>
<circle cx="230.8" cy="572.8" r="1.85" fill="#ff0000"/>
<circle cx="218.9" cy="580.5" r="1.85" fill="#ff0000"/>
<circle cx="121.5" cy="523.4" r="1.85" fill="#ff0000"/>
<circle cx="147.4" cy="530.9" r="1.85" fill="#ff0000"/>
<circle cx="152" cy="528.8" r="1.85" fill="#ff0000"/>
<circle cx="155.6" cy="527.4" r="1.85" fill="#ff0000"/>
<circle cx="158.2" cy="525.7" r="1.85" fill="#ff0000"/>
<circle cx="145.6" cy="540.3" r="1.85" fill="#ff0000"/>
<circle cx="159.5" cy="539.1" r="1.85" fill="#ff0000"/>
<circle cx="135" cy="549.4" r="1.85" fill="#ff0000"/>
<circle cx="136.1" cy="552.1" r="1.85" fill="#ff0000"/>
<circle cx="153.4" cy="549.6" r="1.85" fill="#ff0000"/>
<circle cx="156.9" cy="549.6" r="1.85" fill="#ff0000"/>
<circle cx="159.3" cy="546.3" r="1.85" fill="#ff0000"/>
<circle cx="144.1" cy="555.5" r="1.85" fill="#ff0000"/>
<circle cx="129.6" cy="567.6" r="1.85" fill="#ff0000"/>
<circle cx="142.5" cy="568.4" r="1.85" fill="#ff0000"/>
<circle cx="154.5" cy="567.3" r="1.85" fill="#ff0000"/>
<circle cx="148.5" cy="572.7" r="1.85" fill="#ff0000"/>
<circle cx="146.5" cy="576.7" r="1.85" fill="#ff0000"/>
<circle cx="143.9" cy="580.5" r="1.85" fill="#ff0000"/>
<circle cx="157.1" cy="576.9" r="1.85" fill="#ff0000"/>
<circle cx="158.8" cy="574.9" r="1.85" fill="#ff0000"/>
<circle cx="159.3" cy="582.4" r="1.85" fill="#ff0000"/>
<circle cx="161.7" cy="498.4" r="1.85" fill="#ff0000"/>
<circle cx="165.9" cy="501.3" r="1.85" fill="#ff0000"/>
<circle cx="167" cy="499.5" r="1.85" fill="#ff0000"/>
<circle cx="165.6" cy="507.2" r="1.85" fill="#ff0000"/>
<circle cx="167.4" cy="505.7" r="1.85" fill="#ff0000"/>
<circle cx="169.2" cy="504.2" r="1.85" fill="#ff0000"/>
<circle cx="164.5" cy="515.2" r="1.85" fill="#ff0000"/>
<circle cx="162.3" cy="519.2" r="1.85" fill="#ff0000"/>
<circle cx="164.1" cy="522.1" r="1.85" fill="#ff0000"/>
<circle cx="167.6" cy="519.6" r="1.85" fill="#ff0000"/>
<circle cx="170.3" cy="521.4" r="1.85" fill="#ff0000"/>
<circle cx="172.2" cy="523.9" r="1.85" fill="#ff0000"/>
<circle cx="172.5" cy="526.1" r="1.85" fill="#ff0000"/>
<circle cx="158.1" cy="525.6" r="1.85" fill="#ff0000"/>
<circle cx="155.7" cy="527.2" r="1.85" fill="#ff0000"/>
<circle cx="165.6" cy="528" r="1.85" fill="#ff0000"/>
<circle cx="171.8" cy="529.4" r="1.85" fill="#ff0000"/>
<circle cx="173.2" cy="530.5" r="1.85" fill="#ff0000"/>
<circle cx="170.3" cy="531.2" r="1.85" fill="#ff0000"/>
<circle cx="168.5" cy="532.3" r="1.85" fill="#ff0000"/>
<circle cx="165.6" cy="533.6" r="1.85" fill="#ff0000"/>
<circle cx="168.1" cy="534.5" r="1.85" fill="#ff0000"/>
<circle cx="173.2" cy="536" r="1.85" fill="#ff0000"/>
<circle cx="173.2" cy="538.5" r="1.85" fill="#ff0000"/>
<circle cx="170.7" cy="540" r="1.85" fill="#ff0000"/>
<circle cx="167.4" cy="538.9" r="1.85" fill="#ff0000"/>
<circle cx="159.7" cy="539" r="1.85" fill="#ff0000"/>
<circle cx="175.4" cy="543.4" r="1.85" fill="#ff0000"/>
<circle cx="159.5" cy="546.3" r="1.85" fill="#ff0000"/>
<circle cx="156.6" cy="549.5" r="1.85" fill="#ff0000"/>
<circle cx="163.4" cy="552.4" r="1.85" fill="#ff0000"/>
<circle cx="168.1" cy="548.4" r="1.85" fill="#ff0000"/>
<circle cx="170.3" cy="547.3" r="1.85" fill="#ff0000"/>
<circle cx="172.9" cy="546.2" r="1.85" fill="#ff0000"/>
<circle cx="175.8" cy="548.4" r="1.85" fill="#ff0000"/>
<circle cx="176.9" cy="550.5" r="1.85" fill="#ff0000"/>
<circle cx="177.3" cy="553.5" r="1.85" fill="#ff0000"/>
<circle cx="174.7" cy="553.8" r="1.85" fill="#ff0000"/>
<circle cx="174.3" cy="556.4" r="1.85" fill="#ff0000"/>
<circle cx="170.3" cy="556" r="1.85" fill="#ff0000"/>
<circle cx="163.4" cy="563" r="1.85" fill="#ff0000"/>
<circle cx="155.4" cy="567.3" r="1.85" fill="#ff0000"/>
<circle cx="162.7" cy="567.9" r="1.85" fill="#ff0000"/>
<circle cx="171.9" cy="568.8" r="1.85" fill="#ff0000"/>
<circle cx="166.7" cy="573.1" r="1.85" fill="#ff0000"/>
<circle cx="164.5" cy="575" r="1.85" fill="#ff0000"/>
<circle cx="161.9" cy="574.2" r="1.85" fill="#ff0000"/>
<circle cx="158.6" cy="575" r="1.85" fill="#ff0000"/>
<circle cx="157.2" cy="577.2" r="1.85" fill="#ff0000"/>
<circle cx="160.1" cy="581.9" r="1.85" fill="#ff0000"/>
<circle cx="164.9" cy="582.3" r="1.85" fill="#ff0000"/>
<circle cx="169.6" cy="581.2" r="1.85" fill="#ff0000"/>
<circle cx="165.2" cy="527.8" r="1.85" fill="#ff0000"/>
<circle cx="173.4" cy="536.3" r="1.85" fill="#ff0000"/>
<circle cx="172.3" cy="538.3" r="1.85" fill="#ff0000"/>
<circle cx="170.8" cy="539.9" r="1.85" fill="#ff0000"/>
<circle cx="154" cy="549.3" r="1.85" fill="#ff0000"/>
<circle cx="171.3" cy="547" r="1.85" fill="#ff0000"/>
<circle cx="246.6" cy="490.8" r="1.85" fill="#ff0000"/>
<circle cx="248.0" cy="490.8" r="1.85" fill="#ff0000"/>
<circle cx="253.1" cy="500.3" r="1.85" fill="#ff0000"/>
<circle cx="252.3" cy="507.8" r="1.85" fill="#ff0000"/>
<circle cx="232" cy="506.2" r="1.85" fill="#ff0000"/>
<circle cx="234" cy="511.8" r="1.85" fill="#ff0000"/>
<circle cx="238.8" cy="516" r="1.85" fill="#ff0000"/>
<circle cx="241.3" cy="519.7" r="1.85" fill="#ff0000"/>
<circle cx="229.8" cy="519.7" r="1.85" fill="#ff0000"/>
<circle cx="230.5" cy="527.7" r="1.85" fill="#ff0000"/>
<circle cx="249.9" cy="527.9" r="1.85" fill="#ff0000"/>
<circle cx="238.9" cy="535.5" r="1.85" fill="#ff0000"/>
<circle cx="238.2" cy="538.1" r="1.85" fill="#ff0000"/>
<circle cx="243.5" cy="537.9" r="1.85" fill="#ff0000"/>
<circle cx="253.2" cy="536.9" r="1.85" fill="#ff0000"/>
<circle cx="226.9" cy="537.5" r="1.85" fill="#ff0000"/>
<circle cx="227.6" cy="540.1" r="1.85" fill="#ff0000"/>
<circle cx="228.7" cy="541.5" r="1.85" fill="#ff0000"/>
<circle cx="226.2" cy="544.1" r="1.85" fill="#ff0000"/>
<circle cx="226.9" cy="547" r="1.85" fill="#ff0000"/>
<circle cx="225.8" cy="549.2" r="1.85" fill="#ff0000"/>
<circle cx="226.2" cy="550.7" r="1.85" fill="#ff0000"/>
<circle cx="234.2" cy="538.2" r="1.85" fill="#ff0000"/>
<circle cx="233.5" cy="541.2" r="1.85" fill="#ff0000"/>
<circle cx="232.4" cy="543" r="1.85" fill="#ff0000"/>
<circle cx="242.2" cy="541.7" r="1.85" fill="#ff0000"/>
<circle cx="249.7" cy="541.7" r="1.85" fill="#ff0000"/>
<circle cx="234.9" cy="549.8" r="1.85" fill="#ff0000"/>
<circle cx="245.5" cy="548.8" r="1.85" fill="#ff0000"/>
<circle cx="248.1" cy="548.1" r="1.85" fill="#ff0000"/>
<circle cx="230.9" cy="555.4" r="1.85" fill="#ff0000"/>
<circle cx="239.3" cy="556.1" r="1.85" fill="#ff0000"/>
<circle cx="241.1" cy="556.5" r="1.85" fill="#ff0000"/>
<circle cx="225.1" cy="555.4" r="1.85" fill="#ff0000"/>
<circle cx="224.3" cy="557.6" r="1.85" fill="#ff0000"/>
<circle cx="226.5" cy="558.3" r="1.85" fill="#ff0000"/>
<circle cx="240.8" cy="559.8" r="1.85" fill="#ff0000"/>
<circle cx="260.7" cy="539.7" r="1.85" fill="#ff0000"/>
<circle cx="261.8" cy="544.5" r="1.85" fill="#ff0000"/>
<circle cx="228.5" cy="562" r="1.85" fill="#ff0000"/>
<circle cx="236.1" cy="562.2" r="1.85" fill="#ff0000"/>
<circle cx="240.5" cy="560.9" r="1.85" fill="#ff0000"/>
<circle cx="246.7" cy="562.6" r="1.85" fill="#ff0000"/>
<circle cx="244.2" cy="565.7" r="1.85" fill="#ff0000"/>
<circle cx="229.2" cy="568.4" r="1.85" fill="#ff0000"/>
<circle cx="231" cy="572.8" r="1.85" fill="#ff0000"/>
<circle cx="238" cy="571.7" r="1.85" fill="#ff0000"/>
<circle cx="244.5" cy="574.2" r="1.85" fill="#ff0000"/>
<circle cx="240.5" cy="575.7" r="1.85" fill="#ff0000"/>
<circle cx="245.6" cy="579.3" r="1.85" fill="#ff0000"/>
<circle cx="241.2" cy="581.5" r="1.85" fill="#ff0000"/>
<circle cx="240.9" cy="560.7" r="1.85" fill="#ff0000"/>
<circle cx="262.1" cy="562.7" r="1.85" fill="#ff0000"/>
<circle cx="252" cy="570.2" r="1.85" fill="#ff0000"/>
<circle cx="254.2" cy="572.2" r="1.85" fill="#ff0000"/>
<circle cx="253.5" cy="573.6" r="1.85" fill="#ff0000"/>
<circle cx="244.7" cy="574.6" r="1.85" fill="#ff0000"/>
<circle cx="240.7" cy="576" r="1.85" fill="#ff0000"/>
<circle cx="269.2" cy="574.3" r="1.85" fill="#ff0000"/>
<circle cx="245.7" cy="579.5" r="1.85" fill="#ff0000"/>
<circle cx="253.1" cy="580.9" r="1.85" fill="#ff0000"/>
<circle cx="241.3" cy="581.6" r="1.85" fill="#ff0000"/>
<circle cx="278" cy="580.9" r="1.85" fill="#ff0000"/>
<circle cx="279.4" cy="579.8" r="1.85" fill="#ff0000"/>
<path d="M177.0,582.6 L185.3,582.6 L188.0,590.2 L190.3,597.6 L164.0,597.6 L168.0,592.0 L173.0,587.0 Z" fill="#000" stroke="#000" stroke-width="2.0" stroke-linejoin="round"/>
<path d="M216.4,582.6 L226.0,582.6 L232.0,584.5 L240.0,588.5 L246.0,593.0 L250.0,597.6 L210.8,597.6 L213.7,590.2 Z" fill="#000" stroke="#000" stroke-width="2.0" stroke-linejoin="round"/>
<circle cx="175.0" cy="594.7" r="1.85" fill="#000"/>
<circle cx="151.6" cy="595.5" r="1.85" fill="#000"/>
<circle cx="150.8" cy="595.6" r="1.85" fill="#000"/>
<circle cx="167.3" cy="588.0" r="1.85" fill="#000"/>
<circle cx="171.5" cy="596.5" r="1.85" fill="#000"/>
<circle cx="170.4" cy="586.5" r="1.85" fill="#000"/>
<circle cx="180.3" cy="587.2" r="1.85" fill="#000"/>
<circle cx="169.3" cy="585.6" r="1.85" fill="#000"/>
<circle cx="179.2" cy="591.0" r="1.85" fill="#000"/>
<circle cx="182.8" cy="589.3" r="1.85" fill="#000"/>
<circle cx="169.0" cy="595.2" r="1.85" fill="#000"/>
<circle cx="164.7" cy="590.4" r="1.85" fill="#000"/>
<circle cx="177.2" cy="597.3" r="1.85" fill="#000"/>
<circle cx="162.6" cy="595.2" r="1.85" fill="#000"/>
<circle cx="178.0" cy="592.3" r="1.85" fill="#000"/>
<circle cx="165.2" cy="588.1" r="1.85" fill="#000"/>
<circle cx="151.6" cy="595.3" r="1.85" fill="#000"/>
<circle cx="185.0" cy="592.8" r="1.85" fill="#000"/>
<circle cx="159.2" cy="597.0" r="1.85" fill="#000"/>
<circle cx="158.4" cy="597.1" r="1.85" fill="#000"/>
<circle cx="168.2" cy="590.3" r="1.85" fill="#000"/>
<circle cx="172.9" cy="590.7" r="1.85" fill="#000"/>
<circle cx="179.9" cy="592.6" r="1.85" fill="#000"/>
<circle cx="178.4" cy="595.8" r="1.85" fill="#000"/>
<circle cx="164.6" cy="587.8" r="1.85" fill="#000"/>
<circle cx="178.8" cy="592.4" r="1.85" fill="#000"/>
<circle cx="149.9" cy="595.2" r="1.85" fill="#000"/>
<circle cx="185.9" cy="592.2" r="1.85" fill="#000"/>
<circle cx="179.2" cy="594.9" r="1.85" fill="#000"/>
<circle cx="169.4" cy="595.2" r="1.85" fill="#000"/>
<circle cx="182.2" cy="595.1" r="1.85" fill="#000"/>
<circle cx="172.8" cy="596.0" r="1.85" fill="#000"/>
<circle cx="177.0" cy="593.1" r="1.85" fill="#000"/>
<circle cx="152.5" cy="595.2" r="1.85" fill="#000"/>
<circle cx="171.7" cy="592.2" r="1.85" fill="#000"/>
<circle cx="174.6" cy="592.9" r="1.85" fill="#000"/>
<circle cx="181.9" cy="593.9" r="1.85" fill="#000"/>
<circle cx="169.4" cy="590.8" r="1.85" fill="#000"/>
<circle cx="176.0" cy="584.0" r="1.85" fill="#000"/>
<circle cx="179.3" cy="586.7" r="1.85" fill="#000"/>
<circle cx="179.0" cy="586.0" r="1.85" fill="#000"/>
<circle cx="179.4" cy="597.2" r="1.85" fill="#000"/>
<circle cx="169.0" cy="588.6" r="1.85" fill="#000"/>
<circle cx="168.4" cy="593.0" r="1.85" fill="#000"/>
<circle cx="180.6" cy="592.0" r="1.85" fill="#000"/>
<circle cx="175.3" cy="584.1" r="1.85" fill="#000"/>
<circle cx="179.6" cy="587.4" r="1.85" fill="#000"/>
<circle cx="176.6" cy="593.1" r="1.85" fill="#000"/>
<circle cx="176.7" cy="587.2" r="1.85" fill="#000"/>
<circle cx="170.0" cy="589.8" r="1.85" fill="#000"/>
<circle cx="186.0" cy="585.9" r="1.85" fill="#000"/>
<circle cx="189.6" cy="596.7" r="1.85" fill="#000"/>
<circle cx="182.8" cy="597.1" r="1.85" fill="#000"/>
<circle cx="167.1" cy="586.9" r="1.85" fill="#000"/>
<circle cx="156.9" cy="596.8" r="1.85" fill="#000"/>
<circle cx="182.9" cy="590.4" r="1.85" fill="#000"/>
<circle cx="185.7" cy="593.3" r="1.85" fill="#000"/>
<circle cx="157.8" cy="596.1" r="1.85" fill="#000"/>
<circle cx="167.2" cy="587.4" r="1.85" fill="#000"/>
<circle cx="161.4" cy="595.3" r="1.85" fill="#000"/>
<circle cx="183.7" cy="584.8" r="1.85" fill="#000"/>
<circle cx="187.4" cy="593.4" r="1.85" fill="#000"/>
<circle cx="186.3" cy="587.2" r="1.85" fill="#000"/>
<circle cx="163.8" cy="588.7" r="1.85" fill="#000"/>
<circle cx="163.3" cy="589.2" r="1.85" fill="#000"/>
<circle cx="152.3" cy="595.2" r="1.85" fill="#000"/>
<circle cx="160.1" cy="596.7" r="1.85" fill="#000"/>
<circle cx="169.7" cy="585.8" r="1.85" fill="#000"/>
<circle cx="163.9" cy="597.0" r="1.85" fill="#000"/>
<circle cx="185.6" cy="594.9" r="1.85" fill="#000"/>
<circle cx="174.8" cy="596.3" r="1.85" fill="#000"/>
<circle cx="188.0" cy="591.0" r="1.85" fill="#000"/>
<circle cx="178.6" cy="583.7" r="1.85" fill="#000"/>
<circle cx="179.1" cy="589.6" r="1.85" fill="#000"/>
<circle cx="180.0" cy="592.4" r="1.85" fill="#000"/>
<circle cx="223.7" cy="583.3" r="1.85" fill="#000"/>
<circle cx="232.1" cy="587.8" r="1.85" fill="#000"/>
<circle cx="224.3" cy="593.7" r="1.85" fill="#000"/>
<circle cx="240.5" cy="587.1" r="1.85" fill="#000"/>
<circle cx="236.0" cy="588.5" r="1.85" fill="#000"/>
<circle cx="218.4" cy="585.0" r="1.85" fill="#000"/>
<circle cx="220.2" cy="596.2" r="1.85" fill="#000"/>
<circle cx="233.3" cy="585.9" r="1.85" fill="#000"/>
<circle cx="251.8" cy="597.5" r="1.85" fill="#000"/>
<circle cx="231.1" cy="584.7" r="1.85" fill="#000"/>
<circle cx="219.5" cy="584.0" r="1.85" fill="#000"/>
<circle cx="226.3" cy="584.0" r="1.85" fill="#000"/>
<circle cx="221.6" cy="586.5" r="1.85" fill="#000"/>
<circle cx="236.5" cy="595.9" r="1.85" fill="#000"/>
<circle cx="229.5" cy="590.5" r="1.85" fill="#000"/>
<circle cx="227.8" cy="587.7" r="1.85" fill="#000"/>
<circle cx="233.6" cy="592.0" r="1.85" fill="#000"/>
<circle cx="223.1" cy="586.3" r="1.85" fill="#000"/>
<circle cx="228.9" cy="589.3" r="1.85" fill="#000"/>
<circle cx="253.9" cy="595.3" r="1.85" fill="#000"/>
<circle cx="228.5" cy="596.5" r="1.85" fill="#000"/>
<circle cx="248.1" cy="595.4" r="1.85" fill="#000"/>
<circle cx="215.7" cy="584.9" r="1.85" fill="#000"/>
<circle cx="234.4" cy="592.8" r="1.85" fill="#000"/>
<circle cx="240.1" cy="594.1" r="1.85" fill="#000"/>
<circle cx="231.5" cy="590.9" r="1.85" fill="#000"/>
<circle cx="212.6" cy="594.3" r="1.85" fill="#000"/>
<circle cx="221.3" cy="596.4" r="1.85" fill="#000"/>
<circle cx="240.0" cy="587.2" r="1.85" fill="#000"/>
<circle cx="216.6" cy="586.4" r="1.85" fill="#000"/>
<circle cx="239.6" cy="593.1" r="1.85" fill="#000"/>
<circle cx="234.5" cy="591.3" r="1.85" fill="#000"/>
<circle cx="228.3" cy="586.0" r="1.85" fill="#000"/>
<circle cx="224.4" cy="589.5" r="1.85" fill="#000"/>
<circle cx="221.4" cy="586.3" r="1.85" fill="#000"/>
<circle cx="224.7" cy="582.9" r="1.85" fill="#000"/>
<circle cx="233.3" cy="592.7" r="1.85" fill="#000"/>
<circle cx="229.8" cy="586.5" r="1.85" fill="#000"/>
<circle cx="241.0" cy="596.5" r="1.85" fill="#000"/>
<circle cx="221.1" cy="583.1" r="1.85" fill="#000"/>
<circle cx="226.1" cy="588.9" r="1.85" fill="#000"/>
<circle cx="246.8" cy="593.7" r="1.85" fill="#000"/>
<circle cx="233.6" cy="585.7" r="1.85" fill="#000"/>
<circle cx="220.8" cy="594.0" r="1.85" fill="#000"/>
<circle cx="224.1" cy="596.9" r="1.85" fill="#000"/>
<circle cx="233.2" cy="585.4" r="1.85" fill="#000"/>
<circle cx="220.9" cy="588.9" r="1.85" fill="#000"/>
<circle cx="240.9" cy="596.8" r="1.85" fill="#000"/>
<circle cx="217.4" cy="588.5" r="1.85" fill="#000"/>
<circle cx="220.4" cy="597.2" r="1.85" fill="#000"/>
<circle cx="217.2" cy="583.4" r="1.85" fill="#000"/>
<circle cx="251.4" cy="595.9" r="1.85" fill="#000"/>
<circle cx="243.9" cy="597.6" r="1.85" fill="#000"/>
<circle cx="219.2" cy="596.6" r="1.85" fill="#000"/>
<circle cx="240.8" cy="588.3" r="1.85" fill="#000"/>
<circle cx="227.7" cy="587.6" r="1.85" fill="#000"/>
<circle cx="218.5" cy="582.6" r="1.85" fill="#000"/>
<circle cx="223.4" cy="587.9" r="1.85" fill="#000"/>
<circle cx="226.9" cy="594.9" r="1.85" fill="#000"/>
<circle cx="227.6" cy="596.4" r="1.85" fill="#000"/>
<circle cx="141.9" cy="587.1" r="1.85" fill="#000"/>
<circle cx="132.8" cy="590.9" r="1.85" fill="#000"/>
<circle cx="134.7" cy="592.2" r="1.85" fill="#000"/>
<circle cx="138.8" cy="594.8" r="1.85" fill="#000"/>
<circle cx="141.4" cy="595.5" r="1.85" fill="#000"/>
<circle cx="144.3" cy="594.8" r="1.85" fill="#000"/>
<circle cx="146.1" cy="596.2" r="1.85" fill="#000"/>
<circle cx="147.6" cy="593" r="1.85" fill="#000"/>
<circle cx="149.4" cy="594" r="1.85" fill="#000"/>
<circle cx="153.6" cy="592.6" r="1.85" fill="#000"/>
<circle cx="154.5" cy="594.8" r="1.85" fill="#000"/>
<circle cx="156.7" cy="595.1" r="1.85" fill="#000"/>
<circle cx="158.5" cy="586.8" r="1.85" fill="#000"/>
<circle cx="158.9" cy="588.2" r="1.85" fill="#000"/>
<circle cx="158.2" cy="595.9" r="1.85" fill="#000"/>
<circle cx="170" cy="583.4" r="1.85" fill="#000"/>
<circle cx="175.1" cy="583.5" r="1.85" fill="#000"/>
<circle cx="158.6" cy="587" r="1.85" fill="#000"/>
<circle cx="159.4" cy="588.5" r="1.85" fill="#000"/>
<circle cx="163.8" cy="588.8" r="1.85" fill="#000"/>
<circle cx="168.1" cy="588.1" r="1.85" fill="#000"/>
<circle cx="239" cy="583.4" r="1.85" fill="#000"/>
<circle cx="248.2" cy="583.5" r="1.85" fill="#000"/>
<circle cx="241.5" cy="587.4" r="1.85" fill="#000"/>
<circle cx="248.9" cy="591.4" r="1.85" fill="#000"/>
<circle cx="248.4" cy="583.5" r="1.85" fill="#000"/>
<circle cx="254.6" cy="586" r="1.85" fill="#000"/>
<circle cx="252.4" cy="588.9" r="1.85" fill="#000"/>
<circle cx="257.5" cy="590.8" r="1.85" fill="#000"/>
<circle cx="255.7" cy="592.6" r="1.85" fill="#000"/>
<circle cx="249.5" cy="591.5" r="1.85" fill="#000"/>
<circle cx="276.5" cy="583.5" r="1.85" fill="#000"/>
<circle cx="273.6" cy="587.1" r="1.85" fill="#000"/>
<circle cx="268.1" cy="592.2" r="1.85" fill="#000"/>
<circle cx="265.9" cy="593.3" r="1.85" fill="#000"/>
<circle cx="260.8" cy="595.5" r="1.85" fill="#000"/>
<circle cx="258.2" cy="596.2" r="1.85" fill="#000"/>
<circle cx="268.8" cy="596.2" r="1.85" fill="#000"/>
<circle cx="241.5" cy="587.1" r="1.85" fill="#000"/>
<text x="420.30" y="443.10" font-family="'Liberation Serif', serif" font-size="18" font-weight="normal" text-anchor="start" fill="#000" >D</text>
<line x1="492.20" y1="460.20" x2="492.20" y2="595.30" stroke="#000" stroke-width="1.3" />
<line x1="492.20" y1="535.10" x2="583.60" y2="535.10" stroke="#000" stroke-width="1.3" />
<line x1="491.60" y1="594.70" x2="583.60" y2="594.70" stroke="#000" stroke-width="1.3" />
<line x1="487.20" y1="460.45" x2="492.20" y2="460.45" stroke="#000" stroke-width="1.1" />
<text x="485.40" y="464.25" font-family="'Liberation Serif', serif" font-size="10" font-weight="bold" text-anchor="end" fill="#000" >32</text>
<line x1="487.20" y1="475.38" x2="492.20" y2="475.38" stroke="#000" stroke-width="1.1" />
<text x="485.40" y="479.18" font-family="'Liberation Serif', serif" font-size="10" font-weight="bold" text-anchor="end" fill="#000" >16</text>
<line x1="487.20" y1="490.31" x2="492.20" y2="490.31" stroke="#000" stroke-width="1.1" />
<text x="485.40" y="494.11" font-family="'Liberation Serif', serif" font-size="10" font-weight="bold" text-anchor="end" fill="#000" >8</text>
<line x1="487.20" y1="505.24" x2="492.20" y2="505.24" stroke="#000" stroke-width="1.1" />
<text x="485.40" y="509.04" font-family="'Liberation Serif', serif" font-size="10" font-weight="bold" text-anchor="end" fill="#000" >4</text>
<line x1="487.20" y1="520.17" x2="492.20" y2="520.17" stroke="#000" stroke-width="1.1" />
<text x="485.40" y="523.97" font-family="'Liberation Serif', serif" font-size="10" font-weight="bold" text-anchor="end" fill="#000" >2</text>
<line x1="487.20" y1="535.10" x2="492.20" y2="535.10" stroke="#000" stroke-width="1.1" />
<text x="485.40" y="538.90" font-family="'Liberation Serif', serif" font-size="10" font-weight="bold" text-anchor="end" fill="#000" >1</text>
<line x1="487.20" y1="550.03" x2="492.20" y2="550.03" stroke="#000" stroke-width="1.1" />
<text x="485.40" y="553.83" font-family="'Liberation Serif', serif" font-size="10" font-weight="bold" text-anchor="end" fill="#000" >0.5</text>
<line x1="487.20" y1="564.96" x2="492.20" y2="564.96" stroke="#000" stroke-width="1.1" />
<text x="485.40" y="568.76" font-family="'Liberation Serif', serif" font-size="10" font-weight="bold" text-anchor="end" fill="#000" >0.25</text>
<line x1="487.20" y1="579.89" x2="492.20" y2="579.89" stroke="#000" stroke-width="1.1" />
<text x="485.40" y="583.69" font-family="'Liberation Serif', serif" font-size="10" font-weight="bold" text-anchor="end" fill="#000" >0.125</text>
<line x1="487.20" y1="594.82" x2="492.20" y2="594.82" stroke="#000" stroke-width="1.1" />
<text x="485.40" y="598.62" font-family="'Liberation Serif', serif" font-size="10" font-weight="bold" text-anchor="end" fill="#000" >0.0625</text>
<rect x="500.70" y="474.80" width="12.00" height="60.30" fill="#ff0000" stroke="#000" stroke-width="1.7" />
<rect x="521.20" y="472.20" width="12.10" height="62.90" fill="#0000cc" stroke="#000" stroke-width="1.7" />
<rect x="542.40" y="535.10" width="11.50" height="55.80" fill="#cc0a6e" stroke="#000" stroke-width="1.7" />
<rect x="563.60" y="535.10" width="11.50" height="37.40" fill="#007700" stroke="#000" stroke-width="1.7" />
<line x1="506.50" y1="474.00" x2="506.50" y2="473.20" stroke="#000" stroke-width="1" />
<line x1="503.50" y1="473.40" x2="509.50" y2="473.40" stroke="#000" stroke-width="1" />
<line x1="527.20" y1="471.40" x2="527.20" y2="470.60" stroke="#000" stroke-width="1" />
<line x1="524.20" y1="470.80" x2="530.20" y2="470.80" stroke="#000" stroke-width="1" />
<line x1="548.60" y1="591.80" x2="548.60" y2="593.20" stroke="#000" stroke-width="1" />
<line x1="545.60" y1="593.20" x2="551.60" y2="593.20" stroke="#000" stroke-width="1" />
<line x1="569.60" y1="573.40" x2="569.60" y2="578.40" stroke="#000" stroke-width="1" />
<line x1="566.60" y1="578.40" x2="572.60" y2="578.40" stroke="#000" stroke-width="1" />
<text x="0.00" y="0.00" font-family="'Liberation Serif', serif" font-size="13.2" font-weight="bold" text-anchor="middle" fill="#000" transform="translate(450.6,528.1) rotate(-90)">Log2 Fold Change</text>
<rect x="615.10" y="508.90" width="12.20" height="4.60" fill="#ff0000" stroke="#000" stroke-width="2.2" />
<text x="637.00" y="515.00" font-family="'Liberation Serif', serif" font-size="11.2" font-weight="normal" text-anchor="start" fill="#000" >SMIM22</text>
<rect x="615.10" y="525.50" width="12.20" height="4.60" fill="#0000cc" stroke="#000" stroke-width="2.2" />
<text x="637.00" y="531.60" font-family="'Liberation Serif', serif" font-size="11.2" font-weight="normal" text-anchor="start" fill="#000" >ALDH3A1</text>
<rect x="615.10" y="542.10" width="12.20" height="4.60" fill="#cc1177" stroke="#000" stroke-width="2.2" />
<text x="637.00" y="548.20" font-family="'Liberation Serif', serif" font-size="11.2" font-weight="normal" text-anchor="start" fill="#000" >SPINK4</text>
<rect x="615.10" y="558.70" width="12.20" height="4.60" fill="#007700" stroke="#000" stroke-width="2.2" />
<text x="637.00" y="564.80" font-family="'Liberation Serif', serif" font-size="11.2" font-weight="normal" text-anchor="start" fill="#000" >AQP5</text>
<text x="68.00" y="678.40" font-family="'Liberation Serif', serif" font-size="18.5" font-weight="normal" text-anchor="start" fill="#000" >E</text>
<rect x="245.00" y="714.30" width="83.80" height="177.70" fill="#ebebeb" stroke="none" stroke-width="0" />
<line x1="260.15" y1="714.30" x2="260.15" y2="892.00" stroke="#f7f7f7" stroke-width="0.5" />
<line x1="282.45" y1="714.30" x2="282.45" y2="892.00" stroke="#f7f7f7" stroke-width="0.5" />
<line x1="304.75" y1="714.30" x2="304.75" y2="892.00" stroke="#f7f7f7" stroke-width="0.5" />
<line x1="327.05" y1="714.30" x2="327.05" y2="892.00" stroke="#f7f7f7" stroke-width="0.5" />
<line x1="249.00" y1="714.30" x2="249.00" y2="892.00" stroke="#ffffff" stroke-width="1.0" />
<line x1="271.30" y1="714.30" x2="271.30" y2="892.00" stroke="#ffffff" stroke-width="1.0" />
<line x1="293.60" y1="714.30" x2="293.60" y2="892.00" stroke="#ffffff" stroke-width="1.0" />
<line x1="315.90" y1="714.30" x2="315.90" y2="892.00" stroke="#ffffff" stroke-width="1.0" />
<line x1="245.00" y1="723.90" x2="328.80" y2="723.90" stroke="#ffffff" stroke-width="1.0" />
<line x1="245.00" y1="739.79" x2="328.80" y2="739.79" stroke="#ffffff" stroke-width="1.0" />
<line x1="245.00" y1="755.68" x2="328.80" y2="755.68" stroke="#ffffff" stroke-width="1.0" />
<line x1="245.00" y1="771.57" x2="328.80" y2="771.57" stroke="#ffffff" stroke-width="1.0" />
<line x1="245.00" y1="787.46" x2="328.80" y2="787.46" stroke="#ffffff" stroke-width="1.0" />
<line x1="245.00" y1="803.35" x2="328.80" y2="803.35" stroke="#ffffff" stroke-width="1.0" />
<line x1="245.00" y1="819.24" x2="328.80" y2="819.24" stroke="#ffffff" stroke-width="1.0" />
<line x1="245.00" y1="835.13" x2="328.80" y2="835.13" stroke="#ffffff" stroke-width="1.0" />
<line x1="245.00" y1="851.02" x2="328.80" y2="851.02" stroke="#ffffff" stroke-width="1.0" />
<line x1="245.00" y1="866.91" x2="328.80" y2="866.91" stroke="#ffffff" stroke-width="1.0" />
<line x1="245.00" y1="882.80" x2="328.80" y2="882.80" stroke="#ffffff" stroke-width="1.0" />
<line x1="242.00" y1="723.90" x2="244.60" y2="723.90" stroke="#333" stroke-width="0.8" />
<text x="239.20" y="726.90" font-family="'Liberation Sans', sans-serif" font-size="8.6" font-weight="normal" text-anchor="end" fill="#4d4d4d" >Pyrimidine nucleoside diphosphate biosynthetic proc.</text>
<line x1="249.00" y1="723.90" x2="325.10" y2="723.90" stroke="#f01818" stroke-width="1.5" />
<circle cx="325.10" cy="723.90" r="2.85" fill="#f01818"/>
<line x1="242.00" y1="739.79" x2="244.60" y2="739.79" stroke="#333" stroke-width="0.8" />
<text x="239.20" y="742.79" font-family="'Liberation Sans', sans-serif" font-size="8.6" font-weight="normal" text-anchor="end" fill="#4d4d4d" >Peptidoglycan transport</text>
<line x1="249.00" y1="739.79" x2="325.10" y2="739.79" stroke="#f01818" stroke-width="1.5" />
<circle cx="325.10" cy="739.79" r="2.85" fill="#f01818"/>
<line x1="242.00" y1="755.68" x2="244.60" y2="755.68" stroke="#333" stroke-width="0.8" />
<text x="239.20" y="758.68" font-family="'Liberation Sans', sans-serif" font-size="8.6" font-weight="normal" text-anchor="end" fill="#4d4d4d" >DTTP biosynthetic proc.</text>
<line x1="249.00" y1="755.68" x2="305.90" y2="755.68" stroke="#ff7518" stroke-width="1.5" />
<circle cx="305.90" cy="755.68" r="2.85" fill="#ff7518"/>
<line x1="242.00" y1="771.57" x2="244.60" y2="771.57" stroke="#333" stroke-width="0.8" />
<text x="239.20" y="774.57" font-family="'Liberation Sans', sans-serif" font-size="8.6" font-weight="normal" text-anchor="end" fill="#4d4d4d" >Deoxyribonucleoside diphosphate biosynthetic proc.</text>
<line x1="249.00" y1="771.57" x2="305.90" y2="771.57" stroke="#ff7518" stroke-width="1.5" />
<circle cx="305.90" cy="771.57" r="2.85" fill="#ff7518"/>
<line x1="242.00" y1="787.46" x2="244.60" y2="787.46" stroke="#333" stroke-width="0.8" />
<text x="239.20" y="790.46" font-family="'Liberation Sans', sans-serif" font-size="8.6" font-weight="normal" text-anchor="end" fill="#4d4d4d" >Pyrimidine deoxyribonucleoside triphosphate biosynthetic proc.</text>
<line x1="249.00" y1="787.46" x2="305.90" y2="787.46" stroke="#ff7518" stroke-width="1.5" />
<circle cx="305.90" cy="787.46" r="2.85" fill="#ff7518"/>
<line x1="242.00" y1="803.35" x2="244.60" y2="803.35" stroke="#333" stroke-width="0.8" />
<text x="239.20" y="806.35" font-family="'Liberation Sans', sans-serif" font-size="8.6" font-weight="normal" text-anchor="end" fill="#4d4d4d" >DTTP metabolic proc.</text>
<line x1="249.00" y1="803.35" x2="305.90" y2="803.35" stroke="#ff6a10" stroke-width="1.5" />
<circle cx="305.90" cy="803.35" r="2.85" fill="#ff6a10"/>
<line x1="242.00" y1="819.24" x2="244.60" y2="819.24" stroke="#333" stroke-width="0.8" />
<text x="239.20" y="822.24" font-family="'Liberation Sans', sans-serif" font-size="8.6" font-weight="normal" text-anchor="end" fill="#4d4d4d" >Oligopeptide import across plasma membrane</text>
<line x1="249.00" y1="819.24" x2="294.40" y2="819.24" stroke="#ff8c1a" stroke-width="1.5" />
<circle cx="294.40" cy="819.24" r="2.85" fill="#ff8c1a"/>
<line x1="242.00" y1="835.13" x2="244.60" y2="835.13" stroke="#333" stroke-width="0.8" />
<text x="239.20" y="838.13" font-family="'Liberation Sans', sans-serif" font-size="8.6" font-weight="normal" text-anchor="end" fill="#4d4d4d" >Pyrimidine deoxyribonucleotide biosynthetic proc.</text>
<line x1="249.00" y1="835.13" x2="287.10" y2="835.13" stroke="#ffa020" stroke-width="1.5" />
<circle cx="287.10" cy="835.13" r="2.85" fill="#ffa020"/>
<line x1="242.00" y1="851.02" x2="244.60" y2="851.02" stroke="#333" stroke-width="0.8" />
<text x="239.20" y="854.02" font-family="'Liberation Sans', sans-serif" font-size="8.6" font-weight="normal" text-anchor="end" fill="#4d4d4d" >Sphingomyelin biosynthetic proc.</text>
<line x1="249.00" y1="851.02" x2="281.30" y2="851.02" stroke="#ffa624" stroke-width="1.5" />
<circle cx="281.30" cy="851.02" r="2.85" fill="#ffa624"/>
<line x1="242.00" y1="866.91" x2="244.60" y2="866.91" stroke="#333" stroke-width="0.8" />
<text x="239.20" y="869.91" font-family="'Liberation Sans', sans-serif" font-size="8.6" font-weight="normal" text-anchor="end" fill="#4d4d4d" >Dipeptide transmembrane transport</text>
<line x1="249.00" y1="866.91" x2="281.30" y2="866.91" stroke="#ffa624" stroke-width="1.5" />
<circle cx="281.30" cy="866.91" r="2.85" fill="#ffa624"/>
<line x1="242.00" y1="882.80" x2="244.60" y2="882.80" stroke="#333" stroke-width="0.8" />
<text x="239.20" y="885.80" font-family="'Liberation Sans', sans-serif" font-size="8.6" font-weight="normal" text-anchor="end" fill="#4d4d4d" >Oncostatin-M-mediated signaling pathway</text>
<line x1="249.00" y1="882.80" x2="281.30" y2="882.80" stroke="#ffa624" stroke-width="1.5" />
<circle cx="281.30" cy="882.80" r="2.85" fill="#ffa624"/>
<line x1="249.00" y1="892.00" x2="249.00" y2="894.40" stroke="#333" stroke-width="0.8" />
<text x="249.00" y="902.30" font-family="'Liberation Sans', sans-serif" font-size="8.6" font-weight="normal" text-anchor="middle" fill="#4d4d4d" >0</text>
<line x1="271.30" y1="892.00" x2="271.30" y2="894.40" stroke="#333" stroke-width="0.8" />
<text x="271.30" y="902.30" font-family="'Liberation Sans', sans-serif" font-size="8.6" font-weight="normal" text-anchor="middle" fill="#4d4d4d" >200</text>
<line x1="293.60" y1="892.00" x2="293.60" y2="894.40" stroke="#333" stroke-width="0.8" />
<text x="293.60" y="902.30" font-family="'Liberation Sans', sans-serif" font-size="8.6" font-weight="normal" text-anchor="middle" fill="#4d4d4d" >400</text>
<line x1="315.90" y1="892.00" x2="315.90" y2="894.40" stroke="#333" stroke-width="0.8" />
<text x="315.90" y="902.30" font-family="'Liberation Sans', sans-serif" font-size="8.6" font-weight="normal" text-anchor="middle" fill="#4d4d4d" >600</text>
<text x="286.90" y="912.40" font-family="'Liberation Sans', sans-serif" font-size="8.7" font-weight="normal" text-anchor="middle" fill="#000" >Fold Enrichment</text>
<text x="340.60" y="759.80" font-family="'Liberation Sans', sans-serif" font-size="8.8" font-weight="normal" text-anchor="start" fill="#000" >-log10(FDR)</text>
<rect x="340.90" y="764.00" width="12.10" height="12.50" fill="#f2f2f2" stroke="none" stroke-width="0" />
<circle cx="347.1" cy="770.4" r="2.9" fill="#000"/>
<text x="357.60" y="773.50" font-family="'Liberation Sans', sans-serif" font-size="8.6" font-weight="normal" text-anchor="start" fill="#222" >1.323991</text>
<text x="340.60" y="800.00" font-family="'Liberation Sans', sans-serif" font-size="8.7" font-weight="normal" text-anchor="start" fill="#000" >Fold Enrichment</text>
<rect x="340.90" y="805.30" width="12.10" height="12.40" fill="#f2f2f2" stroke="none" stroke-width="0" />
<rect x="342.10" y="807.60" width="9.90" height="7.80" fill="#ffa500" stroke="none" stroke-width="0" rx="1"/>
<text x="357.60" y="814.60" font-family="'Liberation Sans', sans-serif" font-size="8.6" font-weight="normal" text-anchor="start" fill="#222" >300</text>
<rect x="340.90" y="817.85" width="12.10" height="12.40" fill="#f2f2f2" stroke="none" stroke-width="0" />
<rect x="342.10" y="820.15" width="9.90" height="7.80" fill="#ff8c00" stroke="none" stroke-width="0" rx="1"/>
<text x="357.60" y="827.15" font-family="'Liberation Sans', sans-serif" font-size="8.6" font-weight="normal" text-anchor="start" fill="#222" >400</text>
<rect x="340.90" y="830.40" width="12.10" height="12.40" fill="#f2f2f2" stroke="none" stroke-width="0" />
<rect x="342.10" y="832.70" width="9.90" height="7.80" fill="#ff6d00" stroke="none" stroke-width="0" rx="1"/>
<text x="357.60" y="839.70" font-family="'Liberation Sans', sans-serif" font-size="8.6" font-weight="normal" text-anchor="start" fill="#222" >500</text>
<rect x="340.90" y="842.95" width="12.10" height="12.40" fill="#f2f2f2" stroke="none" stroke-width="0" />
<rect x="342.10" y="845.25" width="9.90" height="7.80" fill="#ff4800" stroke="none" stroke-width="0" rx="1"/>
<text x="357.60" y="852.25" font-family="'Liberation Sans', sans-serif" font-size="8.6" font-weight="normal" text-anchor="start" fill="#222" >600</text>
<text x="474.00" y="678.30" font-family="'Liberation Serif', serif" font-size="18" font-weight="normal" text-anchor="start" fill="#000" >F</text>
<line x1="509.20" y1="715.90" x2="509.20" y2="853.80" stroke="#000" stroke-width="1.3" />
<line x1="508.60" y1="853.20" x2="651.50" y2="853.20" stroke="#000" stroke-width="1.3" />
<line x1="579.90" y1="715.90" x2="579.90" y2="853.20" stroke="#000" stroke-width="1.3" />
<line x1="508.90" y1="853.20" x2="508.90" y2="857.80" stroke="#000" stroke-width="1.2" />
<text x="508.90" y="870.00" font-family="'Liberation Serif', serif" font-size="9.6" font-weight="bold" text-anchor="middle" fill="#000" >-1.0</text>
<line x1="544.40" y1="853.20" x2="544.40" y2="857.80" stroke="#000" stroke-width="1.2" />
<text x="544.40" y="870.00" font-family="'Liberation Serif', serif" font-size="9.6" font-weight="bold" text-anchor="middle" fill="#000" >-0.5</text>
<line x1="579.90" y1="853.20" x2="579.90" y2="857.80" stroke="#000" stroke-width="1.2" />
<text x="579.90" y="870.00" font-family="'Liberation Serif', serif" font-size="9.6" font-weight="bold" text-anchor="middle" fill="#000" >0.0</text>
<line x1="615.40" y1="853.20" x2="615.40" y2="857.80" stroke="#000" stroke-width="1.2" />
<text x="615.40" y="870.00" font-family="'Liberation Serif', serif" font-size="9.6" font-weight="bold" text-anchor="middle" fill="#000" >0.5</text>
<line x1="650.90" y1="853.20" x2="650.90" y2="857.80" stroke="#000" stroke-width="1.2" />
<text x="650.90" y="870.00" font-family="'Liberation Serif', serif" font-size="9.6" font-weight="bold" text-anchor="middle" fill="#000" >1.0</text>
<text x="579.90" y="885.20" font-family="'Liberation Serif', serif" font-size="9.8" font-weight="bold" text-anchor="middle" fill="#000" >Log2(Fold Change)</text>
<text x="0.00" y="0.00" font-family="'Liberation Serif', serif" font-size="9.8" font-weight="bold" text-anchor="middle" fill="#000" transform="translate(454.0,785.0) rotate(-90)">SLC4 family</text>
<line x1="503.60" y1="726.30" x2="509.20" y2="726.30" stroke="#000" stroke-width="1.2" />
<text x="501.40" y="729.60" font-family="'Liberation Serif', serif" font-size="9.6" font-weight="bold" text-anchor="end" fill="#000" >SLC4A11</text>
<rect x="579.90" y="721.30" width="22.01" height="10.00" fill="#ff0000" stroke="none" stroke-width="0" />
<line x1="503.60" y1="740.96" x2="509.20" y2="740.96" stroke="#000" stroke-width="1.2" />
<text x="501.40" y="744.26" font-family="'Liberation Serif', serif" font-size="9.6" font-weight="bold" text-anchor="end" fill="#000" >SLC4A9</text>
<rect x="579.90" y="735.96" width="5.68" height="10.00" fill="#ff0000" stroke="none" stroke-width="0" />
<line x1="503.60" y1="755.62" x2="509.20" y2="755.62" stroke="#000" stroke-width="1.2" />
<text x="501.40" y="758.92" font-family="'Liberation Serif', serif" font-size="9.6" font-weight="bold" text-anchor="end" fill="#000" >SLC4A8</text>
<rect x="579.90" y="750.62" width="4.97" height="10.00" fill="#ff0000" stroke="none" stroke-width="0" />
<line x1="503.60" y1="770.28" x2="509.20" y2="770.28" stroke="#000" stroke-width="1.2" />
<text x="501.40" y="773.58" font-family="'Liberation Serif', serif" font-size="9.6" font-weight="bold" text-anchor="end" fill="#000" >SLC4A7</text>
<rect x="579.90" y="765.28" width="39.76" height="10.00" fill="#ff0000" stroke="none" stroke-width="0" />
<line x1="503.60" y1="784.94" x2="509.20" y2="784.94" stroke="#000" stroke-width="1.2" />
<text x="501.40" y="788.24" font-family="'Liberation Serif', serif" font-size="9.6" font-weight="bold" text-anchor="end" fill="#000" >SLC4A5</text>
<rect x="565.70" y="779.94" width="14.20" height="10.00" fill="#00bd00" stroke="none" stroke-width="0" />
<line x1="503.60" y1="799.60" x2="509.20" y2="799.60" stroke="#000" stroke-width="1.2" />
<text x="501.40" y="802.90" font-family="'Liberation Serif', serif" font-size="9.6" font-weight="bold" text-anchor="end" fill="#000" >SLC4A4</text>
<rect x="519.55" y="794.60" width="60.35" height="10.00" fill="#00bd00" stroke="none" stroke-width="0" />
<line x1="503.60" y1="814.26" x2="509.20" y2="814.26" stroke="#000" stroke-width="1.2" />
<text x="501.40" y="817.56" font-family="'Liberation Serif', serif" font-size="9.6" font-weight="bold" text-anchor="end" fill="#000" >SLC4A3</text>
<rect x="579.90" y="809.26" width="36.92" height="10.00" fill="#ff0000" stroke="none" stroke-width="0" />
<line x1="503.60" y1="828.92" x2="509.20" y2="828.92" stroke="#000" stroke-width="1.2" />
<text x="501.40" y="832.22" font-family="'Liberation Serif', serif" font-size="9.6" font-weight="bold" text-anchor="end" fill="#000" >SLC4A2</text>
<rect x="564.99" y="823.92" width="14.91" height="10.00" fill="#00bd00" stroke="none" stroke-width="0" />
<line x1="503.60" y1="843.58" x2="509.20" y2="843.58" stroke="#000" stroke-width="1.2" />
<text x="501.40" y="846.88" font-family="'Liberation Serif', serif" font-size="9.6" font-weight="bold" text-anchor="end" fill="#000" >SLC4A1</text>
<rect x="533.75" y="838.58" width="46.15" height="10.00" fill="#00bd00" stroke="none" stroke-width="0" />
<line x1="579.90" y1="715.90" x2="579.90" y2="853.20" stroke="#000" stroke-width="1.3" />
</svg>
</body></html>
